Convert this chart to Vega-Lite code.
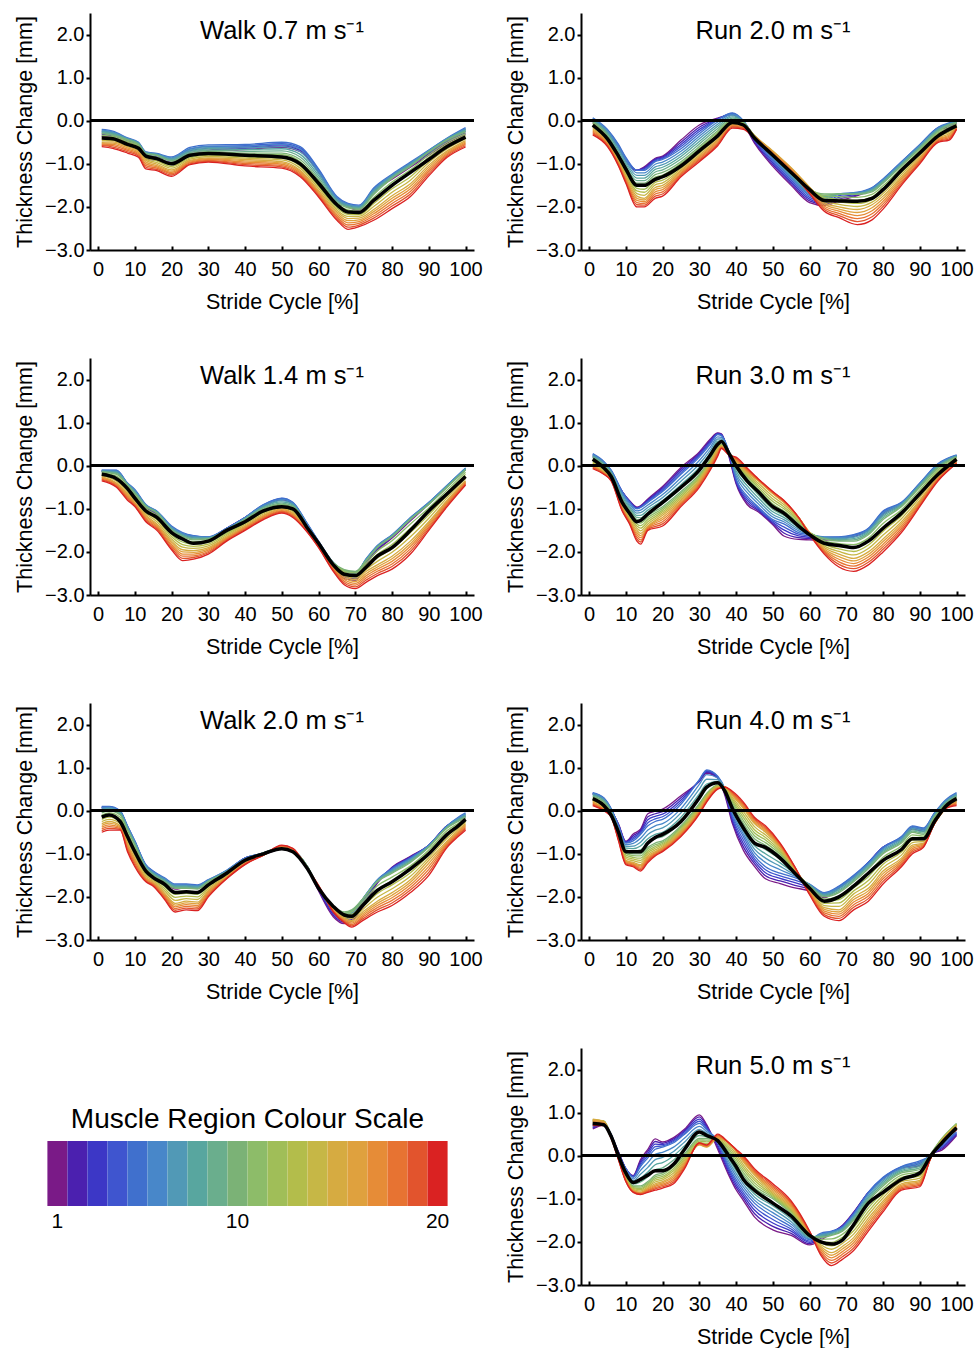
{
"$schema":"https://vega.github.io/schema/vega-lite/v6.json",
"padding":{"left":14,"top":13,"right":0,"bottom":0},
"config":{"font":"Liberation Sans","view":{"stroke":null},
"axis":{"domainColor":"#000","domainWidth":2,"tickColor":"#000","tickWidth":2,"labelColor":"#000","labelFontSize":20,"labelFont":"Liberation Sans","titleFont":"Liberation Sans","titleColor":"#000","titleFontSize":21.5,"titleFontWeight":"normal","grid":false,"labelOverlap":false,"labelFlush":false},
"title":{"font":"Liberation Sans","fontSize":25.5,"fontWeight":"normal","color":"#000","offset":-31,"baseline":"alphabetic","anchor":"middle"}},
"data":{"values":[
{"p":"w07","x":1,"m":-0.4,"1":-0.36,"2":-0.32,"3":-0.28,"4":-0.24,"5":-0.2,"6":-0.22,"7":-0.24,"8":-0.26,"9":-0.28,"10":-0.3,"11":-0.34,"12":-0.38,"13":-0.42,"14":-0.46,"15":-0.5,"16":-0.52,"17":-0.54,"18":-0.56,"19":-0.58,"20":-0.6},
{"p":"w07","x":4,"m":-0.42,"1":-0.4,"2":-0.36,"3":-0.32,"4":-0.28,"5":-0.24,"6":-0.26,"7":-0.28,"8":-0.3,"9":-0.32,"10":-0.34,"11":-0.37,"12":-0.4,"13":-0.43,"14":-0.46,"15":-0.49,"16":-0.52,"17":-0.55,"18":-0.58,"19":-0.61,"20":-0.64},
{"p":"w07","x":8,"m":-0.55,"1":-0.52,"2":-0.49,"3":-0.46,"4":-0.43,"5":-0.4,"6":-0.41,"7":-0.42,"8":-0.43,"9":-0.44,"10":-0.45,"11":-0.48,"12":-0.51,"13":-0.54,"14":-0.57,"15":-0.6,"16":-0.63,"17":-0.66,"18":-0.69,"19":-0.72,"20":-0.75},
{"p":"w07","x":11,"m":-0.64,"1":-0.62,"2":-0.59,"3":-0.56,"4":-0.53,"5":-0.5,"6":-0.51,"7":-0.52,"8":-0.53,"9":-0.54,"10":-0.55,"11":-0.58,"12":-0.61,"13":-0.64,"14":-0.67,"15":-0.7,"16":-0.73,"17":-0.76,"18":-0.79,"19":-0.82,"20":-0.85},
{"p":"w07","x":13,"m":-0.82,"1":-0.88,"2":-0.84,"3":-0.8,"4":-0.76,"5":-0.72,"6":-0.73,"7":-0.74,"8":-0.75,"9":-0.76,"10":-0.77,"11":-0.8,"12":-0.83,"13":-0.86,"14":-0.89,"15":-0.92,"16":-0.96,"17":-1,"18":-1.04,"19":-1.08,"20":-1.12},
{"p":"w07","x":16,"m":-0.88,"1":-0.92,"2":-0.88,"3":-0.84,"4":-0.8,"5":-0.76,"6":-0.77,"7":-0.78,"8":-0.79,"9":-0.8,"10":-0.81,"11":-0.85,"12":-0.89,"13":-0.93,"14":-0.97,"15":-1.01,"16":-1.04,"17":-1.07,"18":-1.1,"19":-1.13,"20":-1.16},
{"p":"w07","x":20,"m":-1,"1":-1,"2":-0.96,"3":-0.92,"4":-0.88,"5":-0.84,"6":-0.86,"7":-0.88,"8":-0.9,"9":-0.92,"10":-0.94,"11":-0.98,"12":-1.02,"13":-1.06,"14":-1.1,"15":-1.14,"16":-1.17,"17":-1.2,"18":-1.23,"19":-1.26,"20":-1.29},
{"p":"w07","x":25,"m":-0.8,"1":-0.78,"2":-0.74,"3":-0.7,"4":-0.66,"5":-0.62,"6":-0.65,"7":-0.68,"8":-0.71,"9":-0.74,"10":-0.77,"11":-0.8,"12":-0.83,"13":-0.86,"14":-0.89,"15":-0.92,"16":-0.94,"17":-0.96,"18":-0.98,"19":-1,"20":-1.02},
{"p":"w07","x":30,"m":-0.76,"1":-0.72,"2":-0.68,"3":-0.64,"4":-0.6,"5":-0.56,"6":-0.59,"7":-0.62,"8":-0.65,"9":-0.68,"10":-0.71,"11":-0.74,"12":-0.77,"13":-0.8,"14":-0.83,"15":-0.86,"16":-0.88,"17":-0.9,"18":-0.92,"19":-0.94,"20":-0.96},
{"p":"w07","x":40,"m":-0.8,"1":-0.67,"2":-0.64,"3":-0.61,"4":-0.58,"5":-0.55,"6":-0.59,"7":-0.63,"8":-0.67,"9":-0.71,"10":-0.75,"11":-0.78,"12":-0.81,"13":-0.84,"14":-0.87,"15":-0.9,"16":-0.93,"17":-0.96,"18":-0.99,"19":-1.02,"20":-1.05},
{"p":"w07","x":50,"m":-0.84,"1":-0.62,"2":-0.59,"3":-0.56,"4":-0.53,"5":-0.5,"6":-0.55,"7":-0.6,"8":-0.65,"9":-0.7,"10":-0.75,"11":-0.79,"12":-0.83,"13":-0.87,"14":-0.91,"15":-0.95,"16":-0.98,"17":-1.01,"18":-1.04,"19":-1.07,"20":-1.1},
{"p":"w07","x":55,"m":-1,"1":-0.72,"2":-0.69,"3":-0.66,"4":-0.63,"5":-0.6,"6":-0.66,"7":-0.72,"8":-0.78,"9":-0.84,"10":-0.9,"11":-0.95,"12":-1,"13":-1.05,"14":-1.1,"15":-1.15,"16":-1.18,"17":-1.21,"18":-1.24,"19":-1.27,"20":-1.3},
{"p":"w07","x":60,"m":-1.45,"1":-1.2,"2":-1.18,"3":-1.16,"4":-1.14,"5":-1.12,"6":-1.17,"7":-1.22,"8":-1.27,"9":-1.32,"10":-1.37,"11":-1.42,"12":-1.47,"13":-1.52,"14":-1.57,"15":-1.62,"16":-1.65,"17":-1.68,"18":-1.71,"19":-1.74,"20":-1.77},
{"p":"w07","x":65,"m":-1.95,"1":-1.84,"2":-1.82,"3":-1.8,"4":-1.78,"5":-1.76,"6":-1.79,"7":-1.82,"8":-1.85,"9":-1.88,"10":-1.91,"11":-1.95,"12":-1.99,"13":-2.03,"14":-2.07,"15":-2.11,"16":-2.15,"17":-2.19,"18":-2.23,"19":-2.27,"20":-2.31},
{"p":"w07","x":68,"m":-2.12,"1":-2,"2":-1.98,"3":-1.96,"4":-1.94,"5":-1.92,"6":-1.94,"7":-1.96,"8":-1.98,"9":-2,"10":-2.02,"11":-2.07,"12":-2.12,"13":-2.17,"14":-2.22,"15":-2.27,"16":-2.32,"17":-2.37,"18":-2.42,"19":-2.47,"20":-2.52},
{"p":"w07","x":71,"m":-2.13,"1":-2.08,"2":-2.05,"3":-2.02,"4":-1.99,"5":-1.96,"6":-1.98,"7":-2,"8":-2.02,"9":-2.04,"10":-2.06,"11":-2.1,"12":-2.14,"13":-2.18,"14":-2.22,"15":-2.26,"16":-2.3,"17":-2.34,"18":-2.38,"19":-2.42,"20":-2.46},
{"p":"w07","x":75,"m":-1.85,"1":-1.64,"2":-1.62,"3":-1.6,"4":-1.58,"5":-1.56,"6":-1.59,"7":-1.62,"8":-1.65,"9":-1.68,"10":-1.71,"11":-1.78,"12":-1.85,"13":-1.92,"14":-1.99,"15":-2.06,"16":-2.11,"17":-2.16,"18":-2.21,"19":-2.26,"20":-2.31},
{"p":"w07","x":80,"m":-1.5,"1":-1.36,"2":-1.33,"3":-1.3,"4":-1.27,"5":-1.24,"6":-1.26,"7":-1.28,"8":-1.3,"9":-1.32,"10":-1.34,"11":-1.42,"12":-1.5,"13":-1.58,"14":-1.66,"15":-1.74,"16":-1.8,"17":-1.86,"18":-1.92,"19":-1.98,"20":-2.04},
{"p":"w07","x":85,"m":-1.2,"1":-1.08,"2":-1.05,"3":-1.02,"4":-0.99,"5":-0.96,"6":-0.98,"7":-1,"8":-1.02,"9":-1.04,"10":-1.06,"11":-1.14,"12":-1.22,"13":-1.3,"14":-1.38,"15":-1.46,"16":-1.52,"17":-1.58,"18":-1.64,"19":-1.7,"20":-1.76},
{"p":"w07","x":90,"m":-0.9,"1":-0.8,"2":-0.77,"3":-0.74,"4":-0.71,"5":-0.68,"6":-0.69,"7":-0.7,"8":-0.71,"9":-0.72,"10":-0.73,"11":-0.79,"12":-0.85,"13":-0.91,"14":-0.97,"15":-1.03,"16":-1.08,"17":-1.13,"18":-1.18,"19":-1.23,"20":-1.28},
{"p":"w07","x":95,"m":-0.6,"1":-0.52,"2":-0.49,"3":-0.46,"4":-0.43,"5":-0.4,"6":-0.41,"7":-0.42,"8":-0.43,"9":-0.44,"10":-0.45,"11":-0.5,"12":-0.55,"13":-0.6,"14":-0.65,"15":-0.7,"16":-0.73,"17":-0.76,"18":-0.79,"19":-0.82,"20":-0.85},
{"p":"w07","x":100,"m":-0.38,"1":-0.32,"2":-0.28,"3":-0.24,"4":-0.2,"5":-0.16,"6":-0.18,"7":-0.2,"8":-0.22,"9":-0.24,"10":-0.26,"11":-0.3,"12":-0.34,"13":-0.38,"14":-0.42,"15":-0.46,"16":-0.49,"17":-0.52,"18":-0.55,"19":-0.58,"20":-0.61},
{"p":"r20","x":1,"m":-0.1,"1":-0.05,"2":-0.02,"3":0.01,"4":0.04,"5":0.07,"6":0.05,"7":0.03,"8":0.01,"9":-0.01,"10":-0.03,"11":-0.06,"12":-0.09,"13":-0.12,"14":-0.15,"15":-0.18,"16":-0.21,"17":-0.24,"18":-0.27,"19":-0.3,"20":-0.33},
{"p":"r20","x":5,"m":-0.42,"1":-0.28,"2":-0.26,"3":-0.24,"4":-0.22,"5":-0.2,"6":-0.23,"7":-0.26,"8":-0.29,"9":-0.32,"10":-0.35,"11":-0.38,"12":-0.41,"13":-0.44,"14":-0.47,"15":-0.5,"16":-0.52,"17":-0.54,"18":-0.56,"19":-0.58,"20":-0.6},
{"p":"r20","x":8,"m":-0.82,"1":-0.63,"2":-0.61,"3":-0.59,"4":-0.57,"5":-0.55,"6":-0.6,"7":-0.65,"8":-0.7,"9":-0.75,"10":-0.8,"11":-0.83,"12":-0.86,"13":-0.89,"14":-0.92,"15":-0.95,"16":-0.97,"17":-0.99,"18":-1.01,"19":-1.03,"20":-1.05},
{"p":"r20","x":10,"m":-1.12,"1":-0.93,"2":-0.91,"3":-0.89,"4":-0.87,"5":-0.85,"6":-0.9,"7":-0.95,"8":-1,"9":-1.05,"10":-1.1,"11":-1.14,"12":-1.18,"13":-1.22,"14":-1.26,"15":-1.3,"16":-1.33,"17":-1.36,"18":-1.39,"19":-1.42,"20":-1.45},
{"p":"r20","x":13,"m":-1.5,"1":-1.15,"2":-1.15,"3":-1.15,"4":-1.15,"5":-1.15,"6":-1.21,"7":-1.27,"8":-1.33,"9":-1.39,"10":-1.45,"11":-1.51,"12":-1.57,"13":-1.63,"14":-1.69,"15":-1.75,"16":-1.8,"17":-1.85,"18":-1.9,"19":-1.95,"20":-2},
{"p":"r20","x":15,"m":-1.5,"1":-1.07,"2":-1.09,"3":-1.11,"4":-1.13,"5":-1.15,"6":-1.21,"7":-1.27,"8":-1.33,"9":-1.39,"10":-1.45,"11":-1.52,"12":-1.59,"13":-1.66,"14":-1.73,"15":-1.8,"16":-1.84,"17":-1.88,"18":-1.92,"19":-1.96,"20":-2},
{"p":"r20","x":18,"m":-1.36,"1":-0.87,"2":-0.89,"3":-0.91,"4":-0.93,"5":-0.95,"6":-1.01,"7":-1.07,"8":-1.13,"9":-1.19,"10":-1.25,"11":-1.31,"12":-1.37,"13":-1.43,"14":-1.49,"15":-1.55,"16":-1.6,"17":-1.65,"18":-1.7,"19":-1.75,"20":-1.8},
{"p":"r20","x":20,"m":-1.3,"1":-0.82,"2":-0.84,"3":-0.86,"4":-0.88,"5":-0.9,"6":-0.96,"7":-1.02,"8":-1.08,"9":-1.14,"10":-1.2,"11":-1.26,"12":-1.32,"13":-1.38,"14":-1.44,"15":-1.5,"16":-1.55,"17":-1.6,"18":-1.65,"19":-1.7,"20":-1.75},
{"p":"r20","x":25,"m":-1.05,"1":-0.45,"2":-0.5,"3":-0.55,"4":-0.6,"5":-0.65,"6":-0.71,"7":-0.77,"8":-0.83,"9":-0.89,"10":-0.95,"11":-0.99,"12":-1.03,"13":-1.07,"14":-1.11,"15":-1.15,"16":-1.18,"17":-1.21,"18":-1.24,"19":-1.27,"20":-1.3},
{"p":"r20","x":30,"m":-0.7,"1":-0.1,"2":-0.15,"3":-0.2,"4":-0.25,"5":-0.3,"6":-0.36,"7":-0.42,"8":-0.48,"9":-0.54,"10":-0.6,"11":-0.64,"12":-0.68,"13":-0.72,"14":-0.76,"15":-0.8,"16":-0.83,"17":-0.86,"18":-0.89,"19":-0.92,"20":-0.95},
{"p":"r20","x":35,"m":-0.35,"1":0.06,"2":0.05,"3":0.04,"4":0.03,"5":0.02,"6":-0.03,"7":-0.08,"8":-0.13,"9":-0.18,"10":-0.23,"11":-0.27,"12":-0.31,"13":-0.35,"14":-0.39,"15":-0.43,"16":-0.46,"17":-0.49,"18":-0.52,"19":-0.55,"20":-0.58},
{"p":"r20","x":39,"m":-0.04,"1":0.14,"2":0.15,"3":0.16,"4":0.17,"5":0.18,"6":0.15,"7":0.12,"8":0.09,"9":0.06,"10":0.03,"11":0.01,"12":-0.01,"13":-0.03,"14":-0.05,"15":-0.07,"16":-0.09,"17":-0.11,"18":-0.13,"19":-0.15,"20":-0.17},
{"p":"r20","x":42,"m":-0.1,"1":-0.08,"2":-0.06,"3":-0.04,"4":-0.02,"5":0,"6":-0.01,"7":-0.02,"8":-0.03,"9":-0.04,"10":-0.05,"11":-0.06,"12":-0.07,"13":-0.08,"14":-0.09,"15":-0.1,"16":-0.12,"17":-0.14,"18":-0.16,"19":-0.18,"20":-0.2},
{"p":"r20","x":45,"m":-0.4,"1":-0.52,"2":-0.49,"3":-0.46,"4":-0.43,"5":-0.4,"6":-0.39,"7":-0.38,"8":-0.37,"9":-0.36,"10":-0.35,"11":-0.35,"12":-0.35,"13":-0.35,"14":-0.35,"15":-0.35,"16":-0.36,"17":-0.37,"18":-0.38,"19":-0.39,"20":-0.4},
{"p":"r20","x":50,"m":-0.8,"1":-1.06,"2":-1.02,"3":-0.98,"4":-0.94,"5":-0.9,"6":-0.87,"7":-0.84,"8":-0.81,"9":-0.78,"10":-0.75,"11":-0.74,"12":-0.73,"13":-0.72,"14":-0.71,"15":-0.7,"16":-0.72,"17":-0.74,"18":-0.76,"19":-0.78,"20":-0.8},
{"p":"r20","x":55,"m":-1.2,"1":-1.5,"2":-1.46,"3":-1.42,"4":-1.38,"5":-1.34,"6":-1.31,"7":-1.28,"8":-1.25,"9":-1.22,"10":-1.19,"11":-1.17,"12":-1.15,"13":-1.13,"14":-1.11,"15":-1.09,"16":-1.11,"17":-1.13,"18":-1.15,"19":-1.17,"20":-1.19},
{"p":"r20","x":60,"m":-1.6,"1":-1.9,"2":-1.86,"3":-1.82,"4":-1.78,"5":-1.74,"6":-1.71,"7":-1.68,"8":-1.65,"9":-1.62,"10":-1.59,"11":-1.58,"12":-1.57,"13":-1.56,"14":-1.55,"15":-1.54,"16":-1.57,"17":-1.6,"18":-1.63,"19":-1.66,"20":-1.69},
{"p":"r20","x":64,"m":-1.85,"1":-1.97,"2":-1.94,"3":-1.91,"4":-1.88,"5":-1.85,"6":-1.82,"7":-1.79,"8":-1.76,"9":-1.73,"10":-1.7,"11":-1.74,"12":-1.78,"13":-1.82,"14":-1.86,"15":-1.9,"16":-1.94,"17":-1.98,"18":-2.02,"19":-2.06,"20":-2.1},
{"p":"r20","x":68,"m":-1.86,"1":-1.86,"2":-1.82,"3":-1.78,"4":-1.74,"5":-1.7,"6":-1.7,"7":-1.7,"8":-1.7,"9":-1.7,"10":-1.7,"11":-1.76,"12":-1.82,"13":-1.88,"14":-1.94,"15":-2,"16":-2.05,"17":-2.1,"18":-2.15,"19":-2.2,"20":-2.25},
{"p":"r20","x":73,"m":-1.87,"1":-1.74,"2":-1.72,"3":-1.7,"4":-1.68,"5":-1.66,"6":-1.67,"7":-1.68,"8":-1.69,"9":-1.7,"10":-1.71,"11":-1.78,"12":-1.85,"13":-1.92,"14":-1.99,"15":-2.06,"16":-2.13,"17":-2.2,"18":-2.27,"19":-2.34,"20":-2.41},
{"p":"r20","x":77,"m":-1.8,"1":-1.59,"2":-1.58,"3":-1.57,"4":-1.56,"5":-1.55,"6":-1.57,"7":-1.59,"8":-1.61,"9":-1.63,"10":-1.65,"11":-1.71,"12":-1.77,"13":-1.83,"14":-1.89,"15":-1.95,"16":-2.02,"17":-2.09,"18":-2.16,"19":-2.23,"20":-2.3},
{"p":"r20","x":80,"m":-1.6,"1":-1.39,"2":-1.38,"3":-1.37,"4":-1.36,"5":-1.35,"6":-1.37,"7":-1.39,"8":-1.41,"9":-1.43,"10":-1.45,"11":-1.51,"12":-1.57,"13":-1.63,"14":-1.69,"15":-1.75,"16":-1.81,"17":-1.87,"18":-1.93,"19":-1.99,"20":-2.05},
{"p":"r20","x":85,"m":-1.15,"1":-0.99,"2":-0.98,"3":-0.97,"4":-0.96,"5":-0.95,"6":-0.97,"7":-0.99,"8":-1.01,"9":-1.03,"10":-1.05,"11":-1.1,"12":-1.15,"13":-1.2,"14":-1.25,"15":-1.3,"16":-1.34,"17":-1.38,"18":-1.42,"19":-1.46,"20":-1.5},
{"p":"r20","x":90,"m":-0.75,"1":-0.59,"2":-0.58,"3":-0.57,"4":-0.56,"5":-0.55,"6":-0.57,"7":-0.59,"8":-0.61,"9":-0.63,"10":-0.65,"11":-0.69,"12":-0.73,"13":-0.77,"14":-0.81,"15":-0.85,"16":-0.88,"17":-0.91,"18":-0.94,"19":-0.97,"20":-1},
{"p":"r20","x":95,"m":-0.35,"1":-0.19,"2":-0.18,"3":-0.17,"4":-0.16,"5":-0.15,"6":-0.17,"7":-0.19,"8":-0.21,"9":-0.23,"10":-0.25,"11":-0.28,"12":-0.31,"13":-0.34,"14":-0.37,"15":-0.4,"16":-0.42,"17":-0.44,"18":-0.46,"19":-0.48,"20":-0.5},
{"p":"r20","x":98,"m":-0.2,"1":-0.17,"2":-0.14,"3":-0.11,"4":-0.08,"5":-0.05,"6":-0.06,"7":-0.07,"8":-0.08,"9":-0.09,"10":-0.1,"11":-0.14,"12":-0.18,"13":-0.22,"14":-0.26,"15":-0.3,"16":-0.33,"17":-0.36,"18":-0.39,"19":-0.42,"20":-0.45},
{"p":"r20","x":100,"m":-0.12,"1":-0.08,"2":-0.06,"3":-0.04,"4":-0.02,"5":0,"6":-0.01,"7":-0.02,"8":-0.03,"9":-0.04,"10":-0.05,"11":-0.07,"12":-0.09,"13":-0.11,"14":-0.13,"15":-0.15,"16":-0.16,"17":-0.17,"18":-0.18,"19":-0.19,"20":-0.2},
{"p":"w14","x":1,"m":-0.2,"1":-0.14,"2":-0.13,"3":-0.12,"4":-0.11,"5":-0.1,"6":-0.11,"7":-0.12,"8":-0.13,"9":-0.14,"10":-0.15,"11":-0.17,"12":-0.19,"13":-0.21,"14":-0.23,"15":-0.25,"16":-0.27,"17":-0.29,"18":-0.31,"19":-0.33,"20":-0.35},
{"p":"w14","x":5,"m":-0.3,"1":-0.14,"2":-0.13,"3":-0.12,"4":-0.11,"5":-0.1,"6":-0.12,"7":-0.14,"8":-0.16,"9":-0.18,"10":-0.2,"11":-0.24,"12":-0.28,"13":-0.32,"14":-0.36,"15":-0.4,"16":-0.42,"17":-0.44,"18":-0.46,"19":-0.48,"20":-0.5},
{"p":"w14","x":8,"m":-0.53,"1":-0.44,"2":-0.43,"3":-0.42,"4":-0.41,"5":-0.4,"6":-0.41,"7":-0.42,"8":-0.43,"9":-0.44,"10":-0.45,"11":-0.49,"12":-0.53,"13":-0.57,"14":-0.61,"15":-0.65,"16":-0.68,"17":-0.71,"18":-0.74,"19":-0.77,"20":-0.8},
{"p":"w14","x":10,"m":-0.75,"1":-0.63,"2":-0.61,"3":-0.59,"4":-0.57,"5":-0.55,"6":-0.57,"7":-0.59,"8":-0.61,"9":-0.63,"10":-0.65,"11":-0.69,"12":-0.73,"13":-0.77,"14":-0.81,"15":-0.85,"16":-0.87,"17":-0.89,"18":-0.91,"19":-0.93,"20":-0.95},
{"p":"w14","x":13,"m":-1.05,"1":-0.98,"2":-0.96,"3":-0.94,"4":-0.92,"5":-0.9,"6":-0.91,"7":-0.92,"8":-0.93,"9":-0.94,"10":-0.95,"11":-0.99,"12":-1.03,"13":-1.07,"14":-1.11,"15":-1.15,"16":-1.18,"17":-1.21,"18":-1.24,"19":-1.27,"20":-1.3},
{"p":"w14","x":16,"m":-1.2,"1":-1.13,"2":-1.11,"3":-1.09,"4":-1.07,"5":-1.05,"6":-1.06,"7":-1.07,"8":-1.08,"9":-1.09,"10":-1.1,"11":-1.15,"12":-1.2,"13":-1.25,"14":-1.3,"15":-1.35,"16":-1.38,"17":-1.41,"18":-1.44,"19":-1.47,"20":-1.5},
{"p":"w14","x":20,"m":-1.55,"1":-1.48,"2":-1.46,"3":-1.44,"4":-1.42,"5":-1.4,"6":-1.42,"7":-1.44,"8":-1.46,"9":-1.48,"10":-1.5,"11":-1.55,"12":-1.6,"13":-1.65,"14":-1.7,"15":-1.75,"16":-1.79,"17":-1.83,"18":-1.87,"19":-1.91,"20":-1.95},
{"p":"w14","x":23,"m":-1.7,"1":-1.63,"2":-1.61,"3":-1.59,"4":-1.57,"5":-1.55,"6":-1.57,"7":-1.59,"8":-1.61,"9":-1.63,"10":-1.65,"11":-1.71,"12":-1.77,"13":-1.83,"14":-1.89,"15":-1.95,"16":-2,"17":-2.05,"18":-2.1,"19":-2.15,"20":-2.2},
{"p":"w14","x":26,"m":-1.8,"1":-1.66,"2":-1.65,"3":-1.64,"4":-1.63,"5":-1.62,"6":-1.64,"7":-1.66,"8":-1.68,"9":-1.7,"10":-1.72,"11":-1.77,"12":-1.82,"13":-1.87,"14":-1.92,"15":-1.97,"16":-2.01,"17":-2.05,"18":-2.09,"19":-2.13,"20":-2.17},
{"p":"w14","x":30,"m":-1.75,"1":-1.69,"2":-1.68,"3":-1.67,"4":-1.66,"5":-1.65,"6":-1.66,"7":-1.67,"8":-1.68,"9":-1.69,"10":-1.7,"11":-1.74,"12":-1.78,"13":-1.82,"14":-1.86,"15":-1.9,"16":-1.93,"17":-1.96,"18":-1.99,"19":-2.02,"20":-2.05},
{"p":"w14","x":35,"m":-1.5,"1":-1.45,"2":-1.45,"3":-1.45,"4":-1.45,"5":-1.45,"6":-1.46,"7":-1.47,"8":-1.48,"9":-1.49,"10":-1.5,"11":-1.53,"12":-1.56,"13":-1.59,"14":-1.62,"15":-1.65,"16":-1.67,"17":-1.69,"18":-1.71,"19":-1.73,"20":-1.75},
{"p":"w14","x":40,"m":-1.3,"1":-1.2,"2":-1.2,"3":-1.2,"4":-1.2,"5":-1.2,"6":-1.21,"7":-1.22,"8":-1.23,"9":-1.24,"10":-1.25,"11":-1.28,"12":-1.31,"13":-1.34,"14":-1.37,"15":-1.4,"16":-1.42,"17":-1.44,"18":-1.46,"19":-1.48,"20":-1.5},
{"p":"w14","x":45,"m":-1.05,"1":-0.94,"2":-0.93,"3":-0.92,"4":-0.91,"5":-0.9,"6":-0.92,"7":-0.94,"8":-0.96,"9":-0.98,"10":-1,"11":-1.03,"12":-1.06,"13":-1.09,"14":-1.12,"15":-1.15,"16":-1.17,"17":-1.19,"18":-1.21,"19":-1.23,"20":-1.25},
{"p":"w14","x":50,"m":-0.95,"1":-0.79,"2":-0.78,"3":-0.77,"4":-0.76,"5":-0.75,"6":-0.78,"7":-0.81,"8":-0.84,"9":-0.87,"10":-0.9,"11":-0.92,"12":-0.94,"13":-0.96,"14":-0.98,"15":-1,"16":-1.02,"17":-1.04,"18":-1.06,"19":-1.08,"20":-1.1},
{"p":"w14","x":53,"m":-1,"1":-0.89,"2":-0.88,"3":-0.87,"4":-0.86,"5":-0.85,"6":-0.87,"7":-0.89,"8":-0.91,"9":-0.93,"10":-0.95,"11":-0.98,"12":-1.01,"13":-1.04,"14":-1.07,"15":-1.1,"16":-1.12,"17":-1.14,"18":-1.16,"19":-1.18,"20":-1.2},
{"p":"w14","x":57,"m":-1.45,"1":-1.39,"2":-1.38,"3":-1.37,"4":-1.36,"5":-1.35,"6":-1.37,"7":-1.39,"8":-1.41,"9":-1.43,"10":-1.45,"11":-1.46,"12":-1.47,"13":-1.48,"14":-1.49,"15":-1.5,"16":-1.51,"17":-1.52,"18":-1.53,"19":-1.54,"20":-1.55},
{"p":"w14","x":60,"m":-1.8,"1":-1.79,"2":-1.78,"3":-1.77,"4":-1.76,"5":-1.75,"6":-1.76,"7":-1.77,"8":-1.78,"9":-1.79,"10":-1.8,"11":-1.81,"12":-1.82,"13":-1.83,"14":-1.84,"15":-1.85,"16":-1.86,"17":-1.87,"18":-1.88,"19":-1.89,"20":-1.9},
{"p":"w14","x":64,"m":-2.3,"1":-2.33,"2":-2.31,"3":-2.29,"4":-2.27,"5":-2.25,"6":-2.25,"7":-2.25,"8":-2.25,"9":-2.25,"10":-2.25,"11":-2.27,"12":-2.29,"13":-2.31,"14":-2.33,"15":-2.35,"16":-2.37,"17":-2.39,"18":-2.41,"19":-2.43,"20":-2.45},
{"p":"w14","x":67,"m":-2.52,"1":-2.62,"2":-2.58,"3":-2.54,"4":-2.5,"5":-2.46,"6":-2.45,"7":-2.44,"8":-2.43,"9":-2.42,"10":-2.41,"11":-2.44,"12":-2.47,"13":-2.5,"14":-2.53,"15":-2.56,"16":-2.6,"17":-2.64,"18":-2.68,"19":-2.72,"20":-2.76},
{"p":"w14","x":70,"m":-2.55,"1":-2.66,"2":-2.62,"3":-2.58,"4":-2.54,"5":-2.5,"6":-2.49,"7":-2.48,"8":-2.47,"9":-2.46,"10":-2.45,"11":-2.49,"12":-2.53,"13":-2.57,"14":-2.61,"15":-2.65,"16":-2.69,"17":-2.73,"18":-2.77,"19":-2.81,"20":-2.85},
{"p":"w14","x":73,"m":-2.35,"1":-2.27,"2":-2.24,"3":-2.21,"4":-2.18,"5":-2.15,"6":-2.16,"7":-2.17,"8":-2.18,"9":-2.19,"10":-2.2,"11":-2.25,"12":-2.3,"13":-2.35,"14":-2.4,"15":-2.45,"16":-2.5,"17":-2.55,"18":-2.6,"19":-2.65,"20":-2.7},
{"p":"w14","x":76,"m":-2.1,"1":-1.97,"2":-1.94,"3":-1.91,"4":-1.88,"5":-1.85,"6":-1.86,"7":-1.87,"8":-1.88,"9":-1.89,"10":-1.9,"11":-1.98,"12":-2.06,"13":-2.14,"14":-2.22,"15":-2.3,"16":-2.35,"17":-2.4,"18":-2.45,"19":-2.5,"20":-2.55},
{"p":"w14","x":80,"m":-1.9,"1":-1.68,"2":-1.66,"3":-1.64,"4":-1.62,"5":-1.6,"6":-1.61,"7":-1.62,"8":-1.63,"9":-1.64,"10":-1.65,"11":-1.74,"12":-1.83,"13":-1.92,"14":-2.01,"15":-2.1,"16":-2.16,"17":-2.22,"18":-2.28,"19":-2.34,"20":-2.4},
{"p":"w14","x":85,"m":-1.5,"1":-1.28,"2":-1.26,"3":-1.24,"4":-1.22,"5":-1.2,"6":-1.21,"7":-1.22,"8":-1.23,"9":-1.24,"10":-1.25,"11":-1.35,"12":-1.45,"13":-1.55,"14":-1.65,"15":-1.75,"16":-1.81,"17":-1.87,"18":-1.93,"19":-1.99,"20":-2.05},
{"p":"w14","x":90,"m":-1.05,"1":-0.89,"2":-0.88,"3":-0.87,"4":-0.86,"5":-0.85,"6":-0.86,"7":-0.87,"8":-0.88,"9":-0.89,"10":-0.9,"11":-0.98,"12":-1.06,"13":-1.14,"14":-1.22,"15":-1.3,"16":-1.34,"17":-1.38,"18":-1.42,"19":-1.46,"20":-1.5},
{"p":"w14","x":95,"m":-0.65,"1":-0.49,"2":-0.48,"3":-0.47,"4":-0.46,"5":-0.45,"6":-0.46,"7":-0.47,"8":-0.48,"9":-0.49,"10":-0.5,"11":-0.56,"12":-0.62,"13":-0.68,"14":-0.74,"15":-0.8,"16":-0.83,"17":-0.86,"18":-0.89,"19":-0.92,"20":-0.95},
{"p":"w14","x":100,"m":-0.25,"1":-0.09,"2":-0.08,"3":-0.07,"4":-0.06,"5":-0.05,"6":-0.06,"7":-0.07,"8":-0.08,"9":-0.09,"10":-0.1,"11":-0.15,"12":-0.2,"13":-0.25,"14":-0.3,"15":-0.35,"16":-0.37,"17":-0.39,"18":-0.41,"19":-0.43,"20":-0.45},
{"p":"r30","x":1,"m":0.15,"1":0.2,"2":0.22,"3":0.24,"4":0.26,"5":0.28,"6":0.26,"7":0.24,"8":0.22,"9":0.2,"10":0.18,"11":0.15,"12":0.12,"13":0.09,"14":0.06,"15":0.03,"16":0.01,"17":-0.01,"18":-0.03,"19":-0.05,"20":-0.07},
{"p":"r30","x":4,"m":-0.05,"1":0.06,"2":0.07,"3":0.08,"4":0.09,"5":0.1,"6":0.08,"7":0.06,"8":0.04,"9":0.02,"10":0,"11":-0.03,"12":-0.06,"13":-0.09,"14":-0.12,"15":-0.15,"16":-0.16,"17":-0.17,"18":-0.18,"19":-0.19,"20":-0.2},
{"p":"r30","x":6,"m":-0.25,"1":-0.14,"2":-0.13,"3":-0.12,"4":-0.11,"5":-0.1,"6":-0.12,"7":-0.14,"8":-0.16,"9":-0.18,"10":-0.2,"11":-0.22,"12":-0.24,"13":-0.26,"14":-0.28,"15":-0.3,"16":-0.31,"17":-0.32,"18":-0.33,"19":-0.34,"20":-0.35},
{"p":"r30","x":9,"m":-0.85,"1":-0.6,"2":-0.6,"3":-0.6,"4":-0.6,"5":-0.6,"6":-0.64,"7":-0.68,"8":-0.72,"9":-0.76,"10":-0.8,"11":-0.83,"12":-0.86,"13":-0.89,"14":-0.92,"15":-0.95,"16":-0.97,"17":-0.99,"18":-1.01,"19":-1.03,"20":-1.05},
{"p":"r30","x":11,"m":-1.1,"1":-0.81,"2":-0.82,"3":-0.83,"4":-0.84,"5":-0.85,"6":-0.89,"7":-0.93,"8":-0.97,"9":-1.01,"10":-1.05,"11":-1.09,"12":-1.13,"13":-1.17,"14":-1.21,"15":-1.25,"16":-1.27,"17":-1.29,"18":-1.31,"19":-1.33,"20":-1.35},
{"p":"r30","x":13,"m":-1.3,"1":-0.96,"2":-0.97,"3":-0.98,"4":-0.99,"5":-1,"6":-1.05,"7":-1.1,"8":-1.15,"9":-1.2,"10":-1.25,"11":-1.3,"12":-1.35,"13":-1.4,"14":-1.45,"15":-1.5,"16":-1.55,"17":-1.6,"18":-1.65,"19":-1.7,"20":-1.75},
{"p":"r30","x":14,"m":-1.27,"1":-0.93,"2":-0.94,"3":-0.95,"4":-0.96,"5":-0.97,"6":-1.03,"7":-1.09,"8":-1.15,"9":-1.21,"10":-1.27,"11":-1.33,"12":-1.39,"13":-1.45,"14":-1.51,"15":-1.57,"16":-1.62,"17":-1.67,"18":-1.72,"19":-1.77,"20":-1.82},
{"p":"r30","x":16,"m":-1.12,"1":-0.77,"2":-0.79,"3":-0.81,"4":-0.83,"5":-0.85,"6":-0.91,"7":-0.97,"8":-1.03,"9":-1.09,"10":-1.15,"11":-1.2,"12":-1.25,"13":-1.3,"14":-1.35,"15":-1.4,"16":-1.42,"17":-1.44,"18":-1.46,"19":-1.48,"20":-1.5},
{"p":"r30","x":20,"m":-0.85,"1":-0.48,"2":-0.51,"3":-0.54,"4":-0.57,"5":-0.6,"6":-0.67,"7":-0.74,"8":-0.81,"9":-0.88,"10":-0.95,"11":-0.99,"12":-1.03,"13":-1.07,"14":-1.11,"15":-1.15,"16":-1.2,"17":-1.25,"18":-1.3,"19":-1.35,"20":-1.4},
{"p":"r30","x":25,"m":-0.5,"1":-0.04,"2":-0.08,"3":-0.12,"4":-0.16,"5":-0.2,"6":-0.28,"7":-0.36,"8":-0.44,"9":-0.52,"10":-0.6,"11":-0.64,"12":-0.68,"13":-0.72,"14":-0.76,"15":-0.8,"16":-0.83,"17":-0.86,"18":-0.89,"19":-0.92,"20":-0.95},
{"p":"r30","x":30,"m":-0.1,"1":0.32,"2":0.29,"3":0.26,"4":0.23,"5":0.2,"6":0.12,"7":0.04,"8":-0.04,"9":-0.12,"10":-0.2,"11":-0.23,"12":-0.26,"13":-0.29,"14":-0.32,"15":-0.35,"16":-0.38,"17":-0.41,"18":-0.44,"19":-0.47,"20":-0.5},
{"p":"r30","x":33,"m":0.25,"1":0.62,"2":0.59,"3":0.56,"4":0.53,"5":0.5,"6":0.43,"7":0.36,"8":0.29,"9":0.22,"10":0.15,"11":0.13,"12":0.11,"13":0.09,"14":0.07,"15":0.05,"16":0.02,"17":-0.01,"18":-0.04,"19":-0.07,"20":-0.1},
{"p":"r30","x":35,"m":0.5,"1":0.76,"2":0.75,"3":0.74,"4":0.73,"5":0.72,"6":0.67,"7":0.62,"8":0.57,"9":0.52,"10":0.47,"11":0.45,"12":0.43,"13":0.41,"14":0.39,"15":0.37,"16":0.34,"17":0.31,"18":0.28,"19":0.25,"20":0.22},
{"p":"r30","x":36,"m":0.56,"1":0.74,"2":0.73,"3":0.72,"4":0.71,"5":0.7,"6":0.66,"7":0.62,"8":0.58,"9":0.54,"10":0.5,"11":0.49,"12":0.48,"13":0.47,"14":0.46,"15":0.45,"16":0.44,"17":0.43,"18":0.42,"19":0.41,"20":0.4},
{"p":"r30","x":38,"m":0.3,"1":0.23,"2":0.26,"3":0.29,"4":0.32,"5":0.35,"6":0.34,"7":0.33,"8":0.32,"9":0.31,"10":0.3,"11":0.3,"12":0.3,"13":0.3,"14":0.3,"15":0.3,"16":0.29,"17":0.28,"18":0.27,"19":0.26,"20":0.25},
{"p":"r30","x":40,"m":0,"1":-0.42,"2":-0.39,"3":-0.36,"4":-0.33,"5":-0.3,"6":-0.24,"7":-0.18,"8":-0.12,"9":-0.06,"10":0,"11":0.02,"12":0.04,"13":0.06,"14":0.08,"15":0.1,"16":0.12,"17":0.14,"18":0.16,"19":0.18,"20":0.2},
{"p":"r30","x":43,"m":-0.35,"1":-0.9,"2":-0.85,"3":-0.8,"4":-0.75,"5":-0.7,"6":-0.62,"7":-0.54,"8":-0.46,"9":-0.38,"10":-0.3,"11":-0.27,"12":-0.24,"13":-0.21,"14":-0.18,"15":-0.15,"16":-0.13,"17":-0.11,"18":-0.09,"19":-0.07,"20":-0.05},
{"p":"r30","x":46,"m":-0.6,"1":-1.07,"2":-1.04,"3":-1.01,"4":-0.98,"5":-0.95,"6":-0.88,"7":-0.81,"8":-0.74,"9":-0.67,"10":-0.6,"11":-0.55,"12":-0.5,"13":-0.45,"14":-0.4,"15":-0.35,"16":-0.34,"17":-0.33,"18":-0.32,"19":-0.31,"20":-0.3},
{"p":"r30","x":50,"m":-0.95,"1":-1.37,"2":-1.34,"3":-1.31,"4":-1.28,"5":-1.25,"6":-1.19,"7":-1.13,"8":-1.07,"9":-1.01,"10":-0.95,"11":-0.89,"12":-0.83,"13":-0.77,"14":-0.71,"15":-0.65,"16":-0.64,"17":-0.63,"18":-0.62,"19":-0.61,"20":-0.6},
{"p":"r30","x":53,"m":-1.1,"1":-1.63,"2":-1.56,"3":-1.49,"4":-1.42,"5":-1.35,"6":-1.3,"7":-1.25,"8":-1.2,"9":-1.15,"10":-1.1,"11":-1.05,"12":-1,"13":-0.95,"14":-0.9,"15":-0.85,"16":-0.84,"17":-0.83,"18":-0.82,"19":-0.81,"20":-0.8},
{"p":"r30","x":57,"m":-1.4,"1":-1.71,"2":-1.67,"3":-1.63,"4":-1.59,"5":-1.55,"6":-1.51,"7":-1.47,"8":-1.43,"9":-1.39,"10":-1.35,"11":-1.32,"12":-1.29,"13":-1.26,"14":-1.23,"15":-1.2,"16":-1.2,"17":-1.2,"18":-1.2,"19":-1.2,"20":-1.2},
{"p":"r30","x":60,"m":-1.6,"1":-1.72,"2":-1.69,"3":-1.66,"4":-1.63,"5":-1.6,"6":-1.59,"7":-1.58,"8":-1.57,"9":-1.56,"10":-1.55,"11":-1.55,"12":-1.55,"13":-1.55,"14":-1.55,"15":-1.55,"16":-1.56,"17":-1.57,"18":-1.58,"19":-1.59,"20":-1.6},
{"p":"r30","x":64,"m":-1.8,"1":-1.73,"2":-1.71,"3":-1.69,"4":-1.67,"5":-1.65,"6":-1.66,"7":-1.67,"8":-1.68,"9":-1.69,"10":-1.7,"11":-1.74,"12":-1.78,"13":-1.82,"14":-1.86,"15":-1.9,"16":-1.93,"17":-1.96,"18":-1.99,"19":-2.02,"20":-2.05},
{"p":"r30","x":68,"m":-1.85,"1":-1.69,"2":-1.68,"3":-1.67,"4":-1.66,"5":-1.65,"6":-1.67,"7":-1.69,"8":-1.71,"9":-1.73,"10":-1.75,"11":-1.81,"12":-1.87,"13":-1.93,"14":-1.99,"15":-2.05,"16":-2.11,"17":-2.17,"18":-2.23,"19":-2.29,"20":-2.35},
{"p":"r30","x":72,"m":-1.9,"1":-1.64,"2":-1.63,"3":-1.62,"4":-1.61,"5":-1.6,"6":-1.63,"7":-1.66,"8":-1.69,"9":-1.72,"10":-1.75,"11":-1.83,"12":-1.91,"13":-1.99,"14":-2.07,"15":-2.15,"16":-2.21,"17":-2.27,"18":-2.33,"19":-2.39,"20":-2.45},
{"p":"r30","x":76,"m":-1.75,"1":-1.49,"2":-1.48,"3":-1.47,"4":-1.46,"5":-1.45,"6":-1.48,"7":-1.51,"8":-1.54,"9":-1.57,"10":-1.6,"11":-1.68,"12":-1.76,"13":-1.84,"14":-1.92,"15":-2,"16":-2.06,"17":-2.12,"18":-2.18,"19":-2.24,"20":-2.3},
{"p":"r30","x":80,"m":-1.45,"1":-1.13,"2":-1.11,"3":-1.09,"4":-1.07,"5":-1.05,"6":-1.09,"7":-1.13,"8":-1.17,"9":-1.21,"10":-1.25,"11":-1.34,"12":-1.43,"13":-1.52,"14":-1.61,"15":-1.7,"16":-1.76,"17":-1.82,"18":-1.88,"19":-1.94,"20":-2},
{"p":"r30","x":85,"m":-1.1,"1":-0.89,"2":-0.88,"3":-0.87,"4":-0.86,"5":-0.85,"6":-0.87,"7":-0.89,"8":-0.91,"9":-0.93,"10":-0.95,"11":-1.02,"12":-1.09,"13":-1.16,"14":-1.23,"15":-1.3,"16":-1.35,"17":-1.4,"18":-1.45,"19":-1.5,"20":-1.55},
{"p":"r30","x":90,"m":-0.65,"1":-0.44,"2":-0.43,"3":-0.42,"4":-0.41,"5":-0.4,"6":-0.42,"7":-0.44,"8":-0.46,"9":-0.48,"10":-0.5,"11":-0.56,"12":-0.62,"13":-0.68,"14":-0.74,"15":-0.8,"16":-0.83,"17":-0.86,"18":-0.89,"19":-0.92,"20":-0.95},
{"p":"r30","x":95,"m":-0.2,"1":0.01,"2":0.02,"3":0.03,"4":0.04,"5":0.05,"6":0.03,"7":0.01,"8":-0.01,"9":-0.03,"10":-0.05,"11":-0.09,"12":-0.13,"13":-0.17,"14":-0.21,"15":-0.25,"16":-0.27,"17":-0.29,"18":-0.31,"19":-0.33,"20":-0.35},
{"p":"r30","x":100,"m":0.15,"1":0.21,"2":0.22,"3":0.23,"4":0.24,"5":0.25,"6":0.24,"7":0.23,"8":0.22,"9":0.21,"10":0.2,"11":0.18,"12":0.16,"13":0.14,"14":0.12,"15":0.1,"16":0.09,"17":0.08,"18":0.07,"19":0.06,"20":0.05},
{"p":"w20","x":1,"m":-0.15,"1":0.06,"2":0.07,"3":0.08,"4":0.09,"5":0.1,"6":0.07,"7":0.04,"8":0.01,"9":-0.02,"10":-0.05,"11":-0.1,"12":-0.15,"13":-0.2,"14":-0.25,"15":-0.3,"16":-0.34,"17":-0.38,"18":-0.42,"19":-0.46,"20":-0.5},
{"p":"w20","x":3,"m":-0.1,"1":0.06,"2":0.07,"3":0.08,"4":0.09,"5":0.1,"6":0.08,"7":0.06,"8":0.04,"9":0.02,"10":0,"11":-0.05,"12":-0.1,"13":-0.15,"14":-0.2,"15":-0.25,"16":-0.29,"17":-0.33,"18":-0.37,"19":-0.41,"20":-0.45},
{"p":"w20","x":6,"m":-0.25,"1":-0.04,"2":-0.03,"3":-0.02,"4":-0.01,"5":0,"6":-0.02,"7":-0.04,"8":-0.06,"9":-0.08,"10":-0.1,"11":-0.15,"12":-0.2,"13":-0.25,"14":-0.3,"15":-0.35,"16":-0.37,"17":-0.39,"18":-0.41,"19":-0.43,"20":-0.45},
{"p":"w20","x":8,"m":-0.6,"1":-0.39,"2":-0.38,"3":-0.37,"4":-0.36,"5":-0.35,"6":-0.37,"7":-0.39,"8":-0.41,"9":-0.43,"10":-0.45,"11":-0.51,"12":-0.57,"13":-0.63,"14":-0.69,"15":-0.75,"16":-0.79,"17":-0.83,"18":-0.87,"19":-0.91,"20":-0.95},
{"p":"w20","x":10,"m":-0.95,"1":-0.74,"2":-0.73,"3":-0.72,"4":-0.71,"5":-0.7,"6":-0.72,"7":-0.74,"8":-0.76,"9":-0.78,"10":-0.8,"11":-0.86,"12":-0.92,"13":-0.98,"14":-1.04,"15":-1.1,"16":-1.14,"17":-1.18,"18":-1.22,"19":-1.26,"20":-1.3},
{"p":"w20","x":13,"m":-1.4,"1":-1.29,"2":-1.28,"3":-1.27,"4":-1.26,"5":-1.25,"6":-1.27,"7":-1.29,"8":-1.31,"9":-1.33,"10":-1.35,"11":-1.39,"12":-1.43,"13":-1.47,"14":-1.51,"15":-1.55,"16":-1.57,"17":-1.59,"18":-1.61,"19":-1.63,"20":-1.65},
{"p":"w20","x":15,"m":-1.55,"1":-1.44,"2":-1.43,"3":-1.42,"4":-1.41,"5":-1.4,"6":-1.42,"7":-1.44,"8":-1.46,"9":-1.48,"10":-1.5,"11":-1.53,"12":-1.56,"13":-1.59,"14":-1.62,"15":-1.65,"16":-1.67,"17":-1.69,"18":-1.71,"19":-1.73,"20":-1.75},
{"p":"w20","x":18,"m":-1.7,"1":-1.63,"2":-1.61,"3":-1.59,"4":-1.57,"5":-1.55,"6":-1.57,"7":-1.59,"8":-1.61,"9":-1.63,"10":-1.65,"11":-1.7,"12":-1.75,"13":-1.8,"14":-1.85,"15":-1.9,"16":-1.93,"17":-1.96,"18":-1.99,"19":-2.02,"20":-2.05},
{"p":"w20","x":21,"m":-1.9,"1":-1.82,"2":-1.79,"3":-1.76,"4":-1.73,"5":-1.7,"6":-1.72,"7":-1.74,"8":-1.76,"9":-1.78,"10":-1.8,"11":-1.87,"12":-1.94,"13":-2.01,"14":-2.08,"15":-2.15,"16":-2.19,"17":-2.23,"18":-2.27,"19":-2.31,"20":-2.35},
{"p":"w20","x":24,"m":-1.88,"1":-1.78,"2":-1.76,"3":-1.74,"4":-1.72,"5":-1.7,"6":-1.72,"7":-1.74,"8":-1.76,"9":-1.78,"10":-1.8,"11":-1.86,"12":-1.92,"13":-1.98,"14":-2.04,"15":-2.1,"16":-2.14,"17":-2.18,"18":-2.22,"19":-2.26,"20":-2.3},
{"p":"w20","x":27,"m":-1.9,"1":-1.8,"2":-1.78,"3":-1.76,"4":-1.74,"5":-1.72,"6":-1.74,"7":-1.76,"8":-1.78,"9":-1.8,"10":-1.82,"11":-1.88,"12":-1.94,"13":-2,"14":-2.06,"15":-2.12,"16":-2.16,"17":-2.2,"18":-2.24,"19":-2.28,"20":-2.32},
{"p":"w20","x":30,"m":-1.72,"1":-1.64,"2":-1.63,"3":-1.62,"4":-1.61,"5":-1.6,"6":-1.61,"7":-1.62,"8":-1.63,"9":-1.64,"10":-1.65,"11":-1.69,"12":-1.73,"13":-1.77,"14":-1.81,"15":-1.85,"16":-1.88,"17":-1.91,"18":-1.94,"19":-1.97,"20":-2},
{"p":"w20","x":35,"m":-1.45,"1":-1.42,"2":-1.41,"3":-1.4,"4":-1.39,"5":-1.38,"6":-1.39,"7":-1.4,"8":-1.41,"9":-1.42,"10":-1.43,"11":-1.45,"12":-1.47,"13":-1.49,"14":-1.51,"15":-1.53,"16":-1.54,"17":-1.55,"18":-1.56,"19":-1.57,"20":-1.58},
{"p":"w20","x":40,"m":-1.15,"1":-1.1,"2":-1.1,"3":-1.1,"4":-1.1,"5":-1.1,"6":-1.11,"7":-1.12,"8":-1.13,"9":-1.14,"10":-1.15,"11":-1.16,"12":-1.17,"13":-1.18,"14":-1.19,"15":-1.2,"16":-1.21,"17":-1.22,"18":-1.23,"19":-1.24,"20":-1.25},
{"p":"w20","x":45,"m":-1,"1":-1.02,"2":-1.01,"3":-1,"4":-0.99,"5":-0.98,"6":-0.98,"7":-0.98,"8":-0.98,"9":-0.98,"10":-0.98,"11":-0.99,"12":-1,"13":-1.01,"14":-1.02,"15":-1.03,"16":-1.03,"17":-1.03,"18":-1.03,"19":-1.03,"20":-1.03},
{"p":"w20","x":50,"m":-0.88,"1":-0.89,"2":-0.88,"3":-0.87,"4":-0.86,"5":-0.85,"6":-0.85,"7":-0.85,"8":-0.85,"9":-0.85,"10":-0.85,"11":-0.85,"12":-0.85,"13":-0.85,"14":-0.85,"15":-0.85,"16":-0.84,"17":-0.83,"18":-0.82,"19":-0.81,"20":-0.8},
{"p":"w20","x":53,"m":-0.95,"1":-0.96,"2":-0.95,"3":-0.94,"4":-0.93,"5":-0.92,"6":-0.92,"7":-0.92,"8":-0.92,"9":-0.92,"10":-0.92,"11":-0.92,"12":-0.92,"13":-0.92,"14":-0.92,"15":-0.92,"16":-0.91,"17":-0.9,"18":-0.89,"19":-0.88,"20":-0.87},
{"p":"w20","x":57,"m":-1.35,"1":-1.34,"2":-1.33,"3":-1.32,"4":-1.31,"5":-1.3,"6":-1.3,"7":-1.3,"8":-1.3,"9":-1.3,"10":-1.3,"11":-1.31,"12":-1.32,"13":-1.33,"14":-1.34,"15":-1.35,"16":-1.35,"17":-1.35,"18":-1.35,"19":-1.35,"20":-1.35},
{"p":"w20","x":60,"m":-1.8,"1":-1.86,"2":-1.84,"3":-1.82,"4":-1.8,"5":-1.78,"6":-1.78,"7":-1.78,"8":-1.78,"9":-1.78,"10":-1.78,"11":-1.78,"12":-1.78,"13":-1.78,"14":-1.78,"15":-1.78,"16":-1.77,"17":-1.76,"18":-1.75,"19":-1.74,"20":-1.73},
{"p":"w20","x":64,"m":-2.22,"1":-2.46,"2":-2.42,"3":-2.38,"4":-2.34,"5":-2.3,"6":-2.28,"7":-2.26,"8":-2.24,"9":-2.22,"10":-2.2,"11":-2.22,"12":-2.24,"13":-2.26,"14":-2.28,"15":-2.3,"16":-2.31,"17":-2.32,"18":-2.33,"19":-2.34,"20":-2.35},
{"p":"w20","x":67,"m":-2.42,"1":-2.62,"2":-2.59,"3":-2.56,"4":-2.53,"5":-2.5,"6":-2.47,"7":-2.44,"8":-2.41,"9":-2.38,"10":-2.35,"11":-2.38,"12":-2.41,"13":-2.44,"14":-2.47,"15":-2.5,"16":-2.52,"17":-2.54,"18":-2.56,"19":-2.58,"20":-2.6},
{"p":"w20","x":69,"m":-2.45,"1":-2.56,"2":-2.52,"3":-2.48,"4":-2.44,"5":-2.4,"6":-2.38,"7":-2.36,"8":-2.34,"9":-2.32,"10":-2.3,"11":-2.35,"12":-2.4,"13":-2.45,"14":-2.5,"15":-2.55,"16":-2.58,"17":-2.61,"18":-2.64,"19":-2.67,"20":-2.7},
{"p":"w20","x":72,"m":-2.2,"1":-2.25,"2":-2.2,"3":-2.15,"4":-2.1,"5":-2.05,"6":-2.05,"7":-2.05,"8":-2.05,"9":-2.05,"10":-2.05,"11":-2.11,"12":-2.17,"13":-2.23,"14":-2.29,"15":-2.35,"16":-2.39,"17":-2.43,"18":-2.47,"19":-2.51,"20":-2.55},
{"p":"w20","x":76,"m":-1.85,"1":-1.68,"2":-1.66,"3":-1.64,"4":-1.62,"5":-1.6,"6":-1.61,"7":-1.62,"8":-1.63,"9":-1.64,"10":-1.65,"11":-1.74,"12":-1.83,"13":-1.92,"14":-2.01,"15":-2.1,"16":-2.15,"17":-2.2,"18":-2.25,"19":-2.3,"20":-2.35},
{"p":"w20","x":80,"m":-1.65,"1":-1.31,"2":-1.32,"3":-1.33,"4":-1.34,"5":-1.35,"6":-1.37,"7":-1.39,"8":-1.41,"9":-1.43,"10":-1.45,"11":-1.54,"12":-1.63,"13":-1.72,"14":-1.81,"15":-1.9,"16":-1.96,"17":-2.02,"18":-2.08,"19":-2.14,"20":-2.2},
{"p":"w20","x":85,"m":-1.35,"1":-1.06,"2":-1.07,"3":-1.08,"4":-1.09,"5":-1.1,"6":-1.12,"7":-1.14,"8":-1.16,"9":-1.18,"10":-1.2,"11":-1.28,"12":-1.36,"13":-1.44,"14":-1.52,"15":-1.6,"16":-1.66,"17":-1.72,"18":-1.78,"19":-1.84,"20":-1.9},
{"p":"w20","x":90,"m":-1,"1":-0.8,"2":-0.8,"3":-0.8,"4":-0.8,"5":-0.8,"6":-0.81,"7":-0.82,"8":-0.83,"9":-0.84,"10":-0.85,"11":-0.91,"12":-0.97,"13":-1.03,"14":-1.09,"15":-1.15,"16":-1.22,"17":-1.29,"18":-1.36,"19":-1.43,"20":-1.5},
{"p":"w20","x":95,"m":-0.55,"1":-0.35,"2":-0.35,"3":-0.35,"4":-0.35,"5":-0.35,"6":-0.36,"7":-0.37,"8":-0.38,"9":-0.39,"10":-0.4,"11":-0.46,"12":-0.52,"13":-0.58,"14":-0.64,"15":-0.7,"16":-0.73,"17":-0.76,"18":-0.79,"19":-0.82,"20":-0.85},
{"p":"w20","x":98,"m":-0.35,"1":-0.23,"2":-0.21,"3":-0.19,"4":-0.17,"5":-0.15,"6":-0.17,"7":-0.19,"8":-0.21,"9":-0.23,"10":-0.25,"11":-0.29,"12":-0.33,"13":-0.37,"14":-0.41,"15":-0.45,"16":-0.48,"17":-0.51,"18":-0.54,"19":-0.57,"20":-0.6},
{"p":"w20","x":100,"m":-0.2,"1":-0.21,"2":-0.17,"3":-0.13,"4":-0.09,"5":-0.05,"6":-0.07,"7":-0.09,"8":-0.11,"9":-0.13,"10":-0.15,"11":-0.18,"12":-0.21,"13":-0.24,"14":-0.27,"15":-0.3,"16":-0.33,"17":-0.36,"18":-0.39,"19":-0.42,"20":-0.45},
{"p":"r40","x":1,"m":0.28,"1":0.38,"2":0.39,"3":0.4,"4":0.41,"5":0.42,"6":0.4,"7":0.38,"8":0.36,"9":0.34,"10":0.32,"11":0.3,"12":0.28,"13":0.26,"14":0.24,"15":0.22,"16":0.2,"17":0.18,"18":0.16,"19":0.14,"20":0.12},
{"p":"r40","x":4,"m":0.12,"1":0.26,"2":0.27,"3":0.28,"4":0.29,"5":0.3,"6":0.28,"7":0.26,"8":0.24,"9":0.22,"10":0.2,"11":0.17,"12":0.14,"13":0.11,"14":0.08,"15":0.05,"16":0.04,"17":0.03,"18":0.02,"19":0.01,"20":0},
{"p":"r40","x":6,"m":-0.1,"1":0.01,"2":0.02,"3":0.03,"4":0.04,"5":0.05,"6":0.03,"7":0.01,"8":-0.01,"9":-0.03,"10":-0.05,"11":-0.06,"12":-0.07,"13":-0.08,"14":-0.09,"15":-0.1,"16":-0.11,"17":-0.12,"18":-0.13,"19":-0.14,"20":-0.15},
{"p":"r40","x":8,"m":-0.5,"1":-0.31,"2":-0.32,"3":-0.33,"4":-0.34,"5":-0.35,"6":-0.38,"7":-0.41,"8":-0.44,"9":-0.47,"10":-0.5,"11":-0.52,"12":-0.54,"13":-0.56,"14":-0.58,"15":-0.6,"16":-0.62,"17":-0.64,"18":-0.66,"19":-0.68,"20":-0.7},
{"p":"r40","x":10,"m":-0.95,"1":-0.71,"2":-0.72,"3":-0.73,"4":-0.74,"5":-0.75,"6":-0.79,"7":-0.83,"8":-0.87,"9":-0.91,"10":-0.95,"11":-0.99,"12":-1.03,"13":-1.07,"14":-1.11,"15":-1.15,"16":-1.17,"17":-1.19,"18":-1.21,"19":-1.23,"20":-1.25},
{"p":"r40","x":12,"m":-0.95,"1":-0.54,"2":-0.58,"3":-0.62,"4":-0.66,"5":-0.7,"6":-0.76,"7":-0.82,"8":-0.88,"9":-0.94,"10":-1,"11":-1.04,"12":-1.08,"13":-1.12,"14":-1.16,"15":-1.2,"16":-1.22,"17":-1.24,"18":-1.26,"19":-1.28,"20":-1.3},
{"p":"r40","x":14,"m":-0.95,"1":-0.43,"2":-0.46,"3":-0.49,"4":-0.52,"5":-0.55,"6":-0.64,"7":-0.73,"8":-0.82,"9":-0.91,"10":-1,"11":-1.05,"12":-1.1,"13":-1.15,"14":-1.2,"15":-1.25,"16":-1.28,"17":-1.31,"18":-1.34,"19":-1.37,"20":-1.4},
{"p":"r40","x":16,"m":-0.75,"1":-0.07,"2":-0.14,"3":-0.21,"4":-0.28,"5":-0.35,"6":-0.45,"7":-0.55,"8":-0.65,"9":-0.75,"10":-0.85,"11":-0.89,"12":-0.93,"13":-0.97,"14":-1.01,"15":-1.05,"16":-1.08,"17":-1.11,"18":-1.14,"19":-1.17,"20":-1.2},
{"p":"r40","x":18,"m":-0.62,"1":-0.01,"2":-0.07,"3":-0.13,"4":-0.19,"5":-0.25,"6":-0.35,"7":-0.45,"8":-0.55,"9":-0.65,"10":-0.75,"11":-0.79,"12":-0.83,"13":-0.87,"14":-0.91,"15":-0.95,"16":-0.97,"17":-0.99,"18":-1.01,"19":-1.03,"20":-1.05},
{"p":"r40","x":20,"m":-0.55,"1":0.04,"2":-0.02,"3":-0.08,"4":-0.14,"5":-0.2,"6":-0.3,"7":-0.4,"8":-0.5,"9":-0.6,"10":-0.7,"11":-0.73,"12":-0.76,"13":-0.79,"14":-0.82,"15":-0.85,"16":-0.87,"17":-0.89,"18":-0.91,"19":-0.93,"20":-0.95},
{"p":"r40","x":25,"m":-0.25,"1":0.35,"2":0.3,"3":0.25,"4":0.2,"5":0.15,"6":0.05,"7":-0.05,"8":-0.15,"9":-0.25,"10":-0.35,"11":-0.38,"12":-0.41,"13":-0.44,"14":-0.47,"15":-0.5,"16":-0.52,"17":-0.54,"18":-0.56,"19":-0.58,"20":-0.6},
{"p":"r40","x":30,"m":0.3,"1":0.68,"2":0.69,"3":0.7,"4":0.71,"5":0.72,"6":0.61,"7":0.5,"8":0.39,"9":0.28,"10":0.17,"11":0.14,"12":0.11,"13":0.08,"14":0.05,"15":0.02,"16":0,"17":-0.02,"18":-0.04,"19":-0.06,"20":-0.08},
{"p":"r40","x":32,"m":0.55,"1":0.87,"2":0.89,"3":0.91,"4":0.93,"5":0.95,"6":0.84,"7":0.73,"8":0.62,"9":0.51,"10":0.4,"11":0.38,"12":0.36,"13":0.34,"14":0.32,"15":0.3,"16":0.28,"17":0.26,"18":0.24,"19":0.22,"20":0.2},
{"p":"r40","x":35,"m":0.65,"1":0.76,"2":0.77,"3":0.78,"4":0.79,"5":0.8,"6":0.76,"7":0.72,"8":0.68,"9":0.64,"10":0.6,"11":0.59,"12":0.58,"13":0.57,"14":0.56,"15":0.55,"16":0.54,"17":0.53,"18":0.52,"19":0.51,"20":0.5},
{"p":"r40","x":37,"m":0.45,"1":0.34,"2":0.38,"3":0.42,"4":0.46,"5":0.5,"6":0.5,"7":0.5,"8":0.5,"9":0.5,"10":0.5,"11":0.51,"12":0.52,"13":0.53,"14":0.54,"15":0.55,"16":0.55,"17":0.55,"18":0.55,"19":0.55,"20":0.55},
{"p":"r40","x":39,"m":0.05,"1":-0.3,"2":-0.25,"3":-0.2,"4":-0.15,"5":-0.1,"6":-0.05,"7":0,"8":0.05,"9":0.1,"10":0.15,"11":0.19,"12":0.23,"13":0.27,"14":0.31,"15":0.35,"16":0.37,"17":0.39,"18":0.41,"19":0.43,"20":0.45},
{"p":"r40","x":42,"m":-0.4,"1":-0.92,"2":-0.84,"3":-0.76,"4":-0.68,"5":-0.6,"6":-0.54,"7":-0.48,"8":-0.42,"9":-0.36,"10":-0.3,"11":-0.23,"12":-0.16,"13":-0.09,"14":-0.02,"15":0.05,"16":0.08,"17":0.11,"18":0.14,"19":0.17,"20":0.2},
{"p":"r40","x":45,"m":-0.75,"1":-1.29,"2":-1.23,"3":-1.17,"4":-1.11,"5":-1.05,"6":-0.97,"7":-0.89,"8":-0.81,"9":-0.73,"10":-0.65,"11":-0.58,"12":-0.51,"13":-0.44,"14":-0.37,"15":-0.3,"16":-0.27,"17":-0.24,"18":-0.21,"19":-0.18,"20":-0.15},
{"p":"r40","x":48,"m":-0.85,"1":-1.58,"2":-1.51,"3":-1.44,"4":-1.37,"5":-1.3,"6":-1.2,"7":-1.1,"8":-1,"9":-0.9,"10":-0.8,"11":-0.74,"12":-0.68,"13":-0.62,"14":-0.56,"15":-0.5,"16":-0.47,"17":-0.44,"18":-0.41,"19":-0.38,"20":-0.35},
{"p":"r40","x":52,"m":-1.1,"1":-1.69,"2":-1.63,"3":-1.57,"4":-1.51,"5":-1.45,"6":-1.37,"7":-1.29,"8":-1.21,"9":-1.13,"10":-1.05,"11":-1.01,"12":-0.97,"13":-0.93,"14":-0.89,"15":-0.85,"16":-0.83,"17":-0.81,"18":-0.79,"19":-0.77,"20":-0.75},
{"p":"r40","x":56,"m":-1.45,"1":-1.79,"2":-1.73,"3":-1.67,"4":-1.61,"5":-1.55,"6":-1.52,"7":-1.49,"8":-1.46,"9":-1.43,"10":-1.4,"11":-1.39,"12":-1.38,"13":-1.37,"14":-1.36,"15":-1.35,"16":-1.34,"17":-1.33,"18":-1.32,"19":-1.31,"20":-1.3},
{"p":"r40","x":60,"m":-1.8,"1":-1.86,"2":-1.82,"3":-1.78,"4":-1.74,"5":-1.7,"6":-1.71,"7":-1.72,"8":-1.73,"9":-1.74,"10":-1.75,"11":-1.77,"12":-1.79,"13":-1.81,"14":-1.83,"15":-1.85,"16":-1.87,"17":-1.89,"18":-1.91,"19":-1.93,"20":-1.95},
{"p":"r40","x":64,"m":-2.1,"1":-2.02,"2":-1.99,"3":-1.96,"4":-1.93,"5":-1.9,"6":-1.92,"7":-1.94,"8":-1.96,"9":-1.98,"10":-2,"11":-2.05,"12":-2.1,"13":-2.15,"14":-2.2,"15":-2.25,"16":-2.29,"17":-2.33,"18":-2.37,"19":-2.41,"20":-2.45},
{"p":"r40","x":68,"m":-2,"1":-1.79,"2":-1.78,"3":-1.77,"4":-1.76,"5":-1.75,"6":-1.78,"7":-1.81,"8":-1.84,"9":-1.87,"10":-1.9,"11":-1.98,"12":-2.06,"13":-2.14,"14":-2.22,"15":-2.3,"16":-2.35,"17":-2.4,"18":-2.45,"19":-2.5,"20":-2.55},
{"p":"r40","x":72,"m":-1.75,"1":-1.54,"2":-1.53,"3":-1.52,"4":-1.51,"5":-1.5,"6":-1.53,"7":-1.56,"8":-1.59,"9":-1.62,"10":-1.65,"11":-1.72,"12":-1.79,"13":-1.86,"14":-1.93,"15":-2,"16":-2.06,"17":-2.12,"18":-2.18,"19":-2.24,"20":-2.3},
{"p":"r40","x":76,"m":-1.45,"1":-1.2,"2":-1.2,"3":-1.2,"4":-1.2,"5":-1.2,"6":-1.23,"7":-1.26,"8":-1.29,"9":-1.32,"10":-1.35,"11":-1.44,"12":-1.53,"13":-1.62,"14":-1.71,"15":-1.8,"16":-1.86,"17":-1.92,"18":-1.98,"19":-2.04,"20":-2.1},
{"p":"r40","x":80,"m":-1.15,"1":-0.85,"2":-0.85,"3":-0.85,"4":-0.85,"5":-0.85,"6":-0.88,"7":-0.91,"8":-0.94,"9":-0.97,"10":-1,"11":-1.08,"12":-1.16,"13":-1.24,"14":-1.32,"15":-1.4,"16":-1.46,"17":-1.52,"18":-1.58,"19":-1.64,"20":-1.7},
{"p":"r40","x":85,"m":-0.9,"1":-0.64,"2":-0.63,"3":-0.62,"4":-0.61,"5":-0.6,"6":-0.63,"7":-0.66,"8":-0.69,"9":-0.72,"10":-0.75,"11":-0.82,"12":-0.89,"13":-0.96,"14":-1.03,"15":-1.1,"16":-1.14,"17":-1.18,"18":-1.22,"19":-1.26,"20":-1.3},
{"p":"r40","x":88,"m":-0.65,"1":-0.43,"2":-0.41,"3":-0.39,"4":-0.37,"5":-0.35,"6":-0.38,"7":-0.41,"8":-0.44,"9":-0.47,"10":-0.5,"11":-0.56,"12":-0.62,"13":-0.68,"14":-0.74,"15":-0.8,"16":-0.84,"17":-0.88,"18":-0.92,"19":-0.96,"20":-1},
{"p":"r40","x":91,"m":-0.65,"1":-0.48,"2":-0.46,"3":-0.44,"4":-0.42,"5":-0.4,"6":-0.43,"7":-0.46,"8":-0.49,"9":-0.52,"10":-0.55,"11":-0.59,"12":-0.63,"13":-0.67,"14":-0.71,"15":-0.75,"16":-0.77,"17":-0.79,"18":-0.81,"19":-0.83,"20":-0.85},
{"p":"r40","x":94,"m":-0.25,"1":-0.09,"2":-0.08,"3":-0.07,"4":-0.06,"5":-0.05,"6":-0.07,"7":-0.09,"8":-0.11,"9":-0.13,"10":-0.15,"11":-0.18,"12":-0.21,"13":-0.24,"14":-0.27,"15":-0.3,"16":-0.3,"17":-0.3,"18":-0.3,"19":-0.3,"20":-0.3},
{"p":"r40","x":97,"m":0.1,"1":0.09,"2":0.13,"3":0.17,"4":0.21,"5":0.25,"6":0.23,"7":0.21,"8":0.19,"9":0.17,"10":0.15,"11":0.13,"12":0.11,"13":0.09,"14":0.07,"15":0.05,"16":0.05,"17":0.05,"18":0.05,"19":0.05,"20":0.05},
{"p":"r40","x":100,"m":0.28,"1":0.22,"2":0.27,"3":0.32,"4":0.37,"5":0.42,"6":0.4,"7":0.38,"8":0.36,"9":0.34,"10":0.32,"11":0.3,"12":0.28,"13":0.26,"14":0.24,"15":0.22,"16":0.2,"17":0.18,"18":0.16,"19":0.14,"20":0.12},
{"p":"r50","x":1,"m":0.75,"1":0.62,"2":0.64,"3":0.66,"4":0.68,"5":0.7,"6":0.72,"7":0.74,"8":0.76,"9":0.78,"10":0.8,"11":0.81,"12":0.82,"13":0.83,"14":0.84,"15":0.85,"16":0.82,"17":0.79,"18":0.76,"19":0.73,"20":0.7},
{"p":"r50","x":4,"m":0.72,"1":0.71,"2":0.72,"3":0.73,"4":0.74,"5":0.75,"6":0.76,"7":0.77,"8":0.78,"9":0.79,"10":0.8,"11":0.8,"12":0.8,"13":0.8,"14":0.8,"15":0.8,"16":0.78,"17":0.76,"18":0.74,"19":0.72,"20":0.7},
{"p":"r50","x":6,"m":0.45,"1":0.46,"2":0.47,"3":0.48,"4":0.49,"5":0.5,"6":0.49,"7":0.48,"8":0.47,"9":0.46,"10":0.45,"11":0.45,"12":0.45,"13":0.45,"14":0.45,"15":0.45,"16":0.44,"17":0.43,"18":0.42,"19":0.41,"20":0.4},
{"p":"r50","x":8,"m":0,"1":0.09,"2":0.08,"3":0.07,"4":0.06,"5":0.05,"6":0.03,"7":0.01,"8":-0.01,"9":-0.03,"10":-0.05,"11":-0.05,"12":-0.05,"13":-0.05,"14":-0.05,"15":-0.05,"16":-0.06,"17":-0.07,"18":-0.08,"19":-0.09,"20":-0.1},
{"p":"r50","x":10,"m":-0.4,"1":-0.3,"2":-0.3,"3":-0.3,"4":-0.3,"5":-0.3,"6":-0.33,"7":-0.36,"8":-0.39,"9":-0.42,"10":-0.45,"11":-0.47,"12":-0.49,"13":-0.51,"14":-0.53,"15":-0.55,"16":-0.56,"17":-0.57,"18":-0.58,"19":-0.59,"20":-0.6},
{"p":"r50","x":12,"m":-0.62,"1":-0.46,"2":-0.47,"3":-0.48,"4":-0.49,"5":-0.5,"6":-0.54,"7":-0.58,"8":-0.62,"9":-0.66,"10":-0.7,"11":-0.72,"12":-0.74,"13":-0.76,"14":-0.78,"15":-0.8,"16":-0.81,"17":-0.82,"18":-0.83,"19":-0.84,"20":-0.85},
{"p":"r50","x":14,"m":-0.55,"1":-0.09,"2":-0.13,"3":-0.17,"4":-0.21,"5":-0.25,"6":-0.34,"7":-0.43,"8":-0.52,"9":-0.61,"10":-0.7,"11":-0.73,"12":-0.76,"13":-0.79,"14":-0.82,"15":-0.85,"16":-0.86,"17":-0.87,"18":-0.88,"19":-0.89,"20":-0.9},
{"p":"r50","x":16,"m":-0.45,"1":0.15,"2":0.1,"3":0.05,"4":0,"5":-0.05,"6":-0.16,"7":-0.27,"8":-0.38,"9":-0.49,"10":-0.6,"11":-0.63,"12":-0.66,"13":-0.69,"14":-0.72,"15":-0.75,"16":-0.77,"17":-0.79,"18":-0.81,"19":-0.83,"20":-0.85},
{"p":"r50","x":18,"m":-0.35,"1":0.39,"2":0.33,"3":0.27,"4":0.21,"5":0.15,"6":0.03,"7":-0.09,"8":-0.21,"9":-0.33,"10":-0.45,"11":-0.49,"12":-0.53,"13":-0.57,"14":-0.61,"15":-0.65,"16":-0.68,"17":-0.71,"18":-0.74,"19":-0.77,"20":-0.8},
{"p":"r50","x":20,"m":-0.35,"1":0.32,"2":0.29,"3":0.26,"4":0.23,"5":0.2,"6":0.08,"7":-0.04,"8":-0.16,"9":-0.28,"10":-0.4,"11":-0.44,"12":-0.48,"13":-0.52,"14":-0.56,"15":-0.6,"16":-0.63,"17":-0.66,"18":-0.69,"19":-0.72,"20":-0.75},
{"p":"r50","x":23,"m":-0.2,"1":0.42,"2":0.39,"3":0.36,"4":0.33,"5":0.3,"6":0.2,"7":0.1,"8":0,"9":-0.1,"10":-0.2,"11":-0.25,"12":-0.3,"13":-0.35,"14":-0.4,"15":-0.45,"16":-0.49,"17":-0.53,"18":-0.57,"19":-0.61,"20":-0.65},
{"p":"r50","x":26,"m":0.15,"1":0.62,"2":0.59,"3":0.56,"4":0.53,"5":0.5,"6":0.41,"7":0.32,"8":0.23,"9":0.14,"10":0.05,"11":0.01,"12":-0.03,"13":-0.07,"14":-0.11,"15":-0.15,"16":-0.18,"17":-0.21,"18":-0.24,"19":-0.27,"20":-0.3},
{"p":"r50","x":30,"m":0.55,"1":0.95,"2":0.9,"3":0.85,"4":0.8,"5":0.75,"6":0.68,"7":0.61,"8":0.54,"9":0.47,"10":0.4,"11":0.37,"12":0.34,"13":0.31,"14":0.28,"15":0.25,"16":0.26,"17":0.27,"18":0.28,"19":0.29,"20":0.3},
{"p":"r50","x":32,"m":0.47,"1":0.72,"2":0.69,"3":0.66,"4":0.63,"5":0.6,"6":0.56,"7":0.52,"8":0.48,"9":0.44,"10":0.4,"11":0.36,"12":0.32,"13":0.28,"14":0.24,"15":0.2,"16":0.21,"17":0.22,"18":0.23,"19":0.24,"20":0.25},
{"p":"r50","x":35,"m":0.35,"1":0.15,"2":0.2,"3":0.25,"4":0.3,"5":0.35,"6":0.35,"7":0.35,"8":0.35,"9":0.35,"10":0.35,"11":0.36,"12":0.37,"13":0.38,"14":0.39,"15":0.4,"16":0.42,"17":0.44,"18":0.46,"19":0.48,"20":0.5},
{"p":"r50","x":38,"m":0,"1":-0.45,"2":-0.4,"3":-0.35,"4":-0.3,"5":-0.25,"6":-0.19,"7":-0.13,"8":-0.07,"9":-0.01,"10":0.05,"11":0.1,"12":0.15,"13":0.2,"14":0.25,"15":0.3,"16":0.3,"17":0.3,"18":0.3,"19":0.3,"20":0.3},
{"p":"r50","x":40,"m":-0.25,"1":-0.79,"2":-0.73,"3":-0.67,"4":-0.61,"5":-0.55,"6":-0.48,"7":-0.41,"8":-0.34,"9":-0.27,"10":-0.2,"11":-0.14,"12":-0.08,"13":-0.02,"14":0.04,"15":0.1,"16":0.11,"17":0.12,"18":0.13,"19":0.14,"20":0.15},
{"p":"r50","x":42,"m":-0.55,"1":-1.04,"2":-0.98,"3":-0.92,"4":-0.86,"5":-0.8,"6":-0.73,"7":-0.66,"8":-0.59,"9":-0.52,"10":-0.45,"11":-0.39,"12":-0.33,"13":-0.27,"14":-0.21,"15":-0.15,"16":-0.12,"17":-0.09,"18":-0.06,"19":-0.03,"20":0},
{"p":"r50","x":45,"m":-0.8,"1":-1.42,"2":-1.34,"3":-1.26,"4":-1.18,"5":-1.1,"6":-1.03,"7":-0.96,"8":-0.89,"9":-0.82,"10":-0.75,"11":-0.69,"12":-0.63,"13":-0.57,"14":-0.51,"15":-0.45,"16":-0.42,"17":-0.39,"18":-0.36,"19":-0.33,"20":-0.3},
{"p":"r50","x":50,"m":-1.1,"1":-1.72,"2":-1.64,"3":-1.56,"4":-1.48,"5":-1.4,"6":-1.32,"7":-1.24,"8":-1.16,"9":-1.08,"10":-1,"11":-0.97,"12":-0.94,"13":-0.91,"14":-0.88,"15":-0.85,"16":-0.81,"17":-0.77,"18":-0.73,"19":-0.69,"20":-0.65},
{"p":"r50","x":55,"m":-1.4,"1":-1.85,"2":-1.8,"3":-1.75,"4":-1.7,"5":-1.65,"6":-1.59,"7":-1.53,"8":-1.47,"9":-1.41,"10":-1.35,"11":-1.32,"12":-1.29,"13":-1.26,"14":-1.23,"15":-1.2,"16":-1.17,"17":-1.14,"18":-1.11,"19":-1.08,"20":-1.05},
{"p":"r50","x":60,"m":-1.85,"1":-2.07,"2":-2.04,"3":-2.01,"4":-1.98,"5":-1.95,"6":-1.93,"7":-1.91,"8":-1.89,"9":-1.87,"10":-1.85,"11":-1.84,"12":-1.83,"13":-1.82,"14":-1.81,"15":-1.8,"16":-1.79,"17":-1.78,"18":-1.77,"19":-1.76,"20":-1.75},
{"p":"r50","x":63,"m":-2,"1":-1.96,"2":-1.92,"3":-1.88,"4":-1.84,"5":-1.8,"6":-1.82,"7":-1.84,"8":-1.86,"9":-1.88,"10":-1.9,"11":-1.94,"12":-1.98,"13":-2.02,"14":-2.06,"15":-2.1,"16":-2.14,"17":-2.18,"18":-2.22,"19":-2.26,"20":-2.3},
{"p":"r50","x":66,"m":-2.05,"1":-1.79,"2":-1.78,"3":-1.77,"4":-1.76,"5":-1.75,"6":-1.77,"7":-1.79,"8":-1.81,"9":-1.83,"10":-1.85,"11":-1.93,"12":-2.01,"13":-2.09,"14":-2.17,"15":-2.25,"16":-2.31,"17":-2.37,"18":-2.43,"19":-2.49,"20":-2.55},
{"p":"r50","x":69,"m":-1.95,"1":-1.61,"2":-1.62,"3":-1.63,"4":-1.64,"5":-1.65,"6":-1.67,"7":-1.69,"8":-1.71,"9":-1.73,"10":-1.75,"11":-1.82,"12":-1.89,"13":-1.96,"14":-2.03,"15":-2.1,"16":-2.16,"17":-2.22,"18":-2.28,"19":-2.34,"20":-2.4},
{"p":"r50","x":72,"m":-1.6,"1":-1.31,"2":-1.32,"3":-1.33,"4":-1.34,"5":-1.35,"6":-1.38,"7":-1.41,"8":-1.44,"9":-1.47,"10":-1.5,"11":-1.58,"12":-1.66,"13":-1.74,"14":-1.82,"15":-1.9,"16":-1.96,"17":-2.02,"18":-2.08,"19":-2.14,"20":-2.2},
{"p":"r50","x":76,"m":-1.1,"1":-0.85,"2":-0.85,"3":-0.85,"4":-0.85,"5":-0.85,"6":-0.89,"7":-0.93,"8":-0.97,"9":-1.01,"10":-1.05,"11":-1.13,"12":-1.21,"13":-1.29,"14":-1.37,"15":-1.45,"16":-1.51,"17":-1.57,"18":-1.63,"19":-1.69,"20":-1.75},
{"p":"r50","x":80,"m":-0.85,"1":-0.54,"2":-0.53,"3":-0.52,"4":-0.51,"5":-0.5,"6":-0.54,"7":-0.58,"8":-0.62,"9":-0.66,"10":-0.7,"11":-0.77,"12":-0.84,"13":-0.91,"14":-0.98,"15":-1.05,"16":-1.1,"17":-1.15,"18":-1.2,"19":-1.25,"20":-1.3},
{"p":"r50","x":85,"m":-0.55,"1":-0.29,"2":-0.28,"3":-0.27,"4":-0.26,"5":-0.25,"6":-0.28,"7":-0.31,"8":-0.34,"9":-0.37,"10":-0.4,"11":-0.45,"12":-0.5,"13":-0.55,"14":-0.6,"15":-0.65,"16":-0.68,"17":-0.71,"18":-0.74,"19":-0.77,"20":-0.8},
{"p":"r50","x":90,"m":-0.4,"1":-0.24,"2":-0.21,"3":-0.18,"4":-0.15,"5":-0.12,"6":-0.16,"7":-0.2,"8":-0.24,"9":-0.28,"10":-0.32,"11":-0.37,"12":-0.42,"13":-0.47,"14":-0.52,"15":-0.57,"16":-0.6,"17":-0.63,"18":-0.66,"19":-0.69,"20":-0.72},
{"p":"r50","x":93,"m":0,"1":0.04,"2":0.03,"3":0.02,"4":0.01,"5":0,"6":0.01,"7":0.02,"8":0.03,"9":0.04,"10":0.05,"11":0.03,"12":0.01,"13":-0.01,"14":-0.03,"15":-0.05,"16":-0.05,"17":-0.05,"18":-0.05,"19":-0.05,"20":-0.05},
{"p":"r50","x":96,"m":0.3,"1":0.13,"2":0.16,"3":0.19,"4":0.22,"5":0.25,"6":0.28,"7":0.31,"8":0.34,"9":0.37,"10":0.4,"11":0.39,"12":0.38,"13":0.37,"14":0.36,"15":0.35,"16":0.34,"17":0.33,"18":0.32,"19":0.31,"20":0.3},
{"p":"r50","x":100,"m":0.65,"1":0.47,"2":0.49,"3":0.51,"4":0.53,"5":0.55,"6":0.59,"7":0.63,"8":0.67,"9":0.71,"10":0.75,"11":0.74,"12":0.73,"13":0.72,"14":0.71,"15":0.7,"16":0.68,"17":0.66,"18":0.64,"19":0.62,"20":0.6}
]},
"spacing":45,
"vconcat":[
{"spacing":22,"hconcat":[
{"width":384,"height":237,"title":"Walk 0.7 m s⁻¹","transform":[{"filter":"datum.p=='w07'"}],"layer":[
{"transform":[{"fold":["1","2","3","4","5","6","7","8","9","10","11","12","13","14","15","16","17","18","19","20"],"as":["k","y"]}],"mark":{"type":"line","strokeWidth":1.3,"interpolate":"monotone"},"encoding":{"x":{"field":"x","type":"quantitative","title":"Stride Cycle [%]","scale":{"domain":[-2.2,102.3],"nice":false,"zero":false},"axis":{"values":[0,10,20,30,40,50,60,70,80,90,100],"labelOverlap":false,"tickSize":-4,"labelPadding":13,"titlePadding":12}},"y":{"field":"y","type":"quantitative","title":"Thickness Change [mm]","scale":{"domain":[-3,2.5],"nice":false,"zero":false},"axis":{"values":[-3,-2,-1,0,1,2],"format":".1f","tickSize":4,"labelPadding":2,"titlePadding":8}},"color":{"field":"k","type":"ordinal","legend":null,"scale":{"domain":["1","2","3","4","5","6","7","8","9","10","11","12","13","14","15","16","17","18","19","20"],"range":["#7A1A87","#4B20AF","#3C37C6","#3F55CF","#4070CD","#4887C9","#5199B6","#58A69F","#6AAE8D","#7BB276","#8DBC69","#A0BE58","#B3BD4B","#C6B746","#D6AB41","#DFA13E","#E68C37","#E77332","#E2542D","#DA2222"]}}}},
{"mark":{"type":"rule","strokeWidth":2.5,"color":"#000"},"encoding":{"y":{"datum":0,"type":"quantitative"}}},
{"mark":{"type":"line","strokeWidth":3.5,"color":"#000","interpolate":"monotone"},"encoding":{"x":{"field":"x","type":"quantitative","title":"Stride Cycle [%]","axis":{"values":[0,10,20,30,40,50,60,70,80,90,100],"labelOverlap":false,"tickSize":-4,"labelPadding":13,"titlePadding":12}},"y":{"field":"m","type":"quantitative","title":"Thickness Change [mm]"}}}]},
{"width":384,"height":237,"title":"Run 2.0 m s⁻¹","transform":[{"filter":"datum.p=='r20'"}],"layer":[
{"transform":[{"fold":["1","2","3","4","5","6","7","8","9","10","11","12","13","14","15","16","17","18","19","20"],"as":["k","y"]}],"mark":{"type":"line","strokeWidth":1.3,"interpolate":"monotone"},"encoding":{"x":{"field":"x","type":"quantitative","title":"Stride Cycle [%]","scale":{"domain":[-2.2,102.3],"nice":false,"zero":false},"axis":{"values":[0,10,20,30,40,50,60,70,80,90,100],"labelOverlap":false,"tickSize":-4,"labelPadding":13,"titlePadding":12}},"y":{"field":"y","type":"quantitative","title":"Thickness Change [mm]","scale":{"domain":[-3,2.5],"nice":false,"zero":false},"axis":{"values":[-3,-2,-1,0,1,2],"format":".1f","tickSize":4,"labelPadding":2,"titlePadding":8}},"color":{"field":"k","type":"ordinal","legend":null,"scale":{"domain":["1","2","3","4","5","6","7","8","9","10","11","12","13","14","15","16","17","18","19","20"],"range":["#7A1A87","#4B20AF","#3C37C6","#3F55CF","#4070CD","#4887C9","#5199B6","#58A69F","#6AAE8D","#7BB276","#8DBC69","#A0BE58","#B3BD4B","#C6B746","#D6AB41","#DFA13E","#E68C37","#E77332","#E2542D","#DA2222"]}}}},
{"mark":{"type":"rule","strokeWidth":2.5,"color":"#000"},"encoding":{"y":{"datum":0,"type":"quantitative"}}},
{"mark":{"type":"line","strokeWidth":3.5,"color":"#000","interpolate":"monotone"},"encoding":{"x":{"field":"x","type":"quantitative","title":"Stride Cycle [%]","axis":{"values":[0,10,20,30,40,50,60,70,80,90,100],"labelOverlap":false,"tickSize":-4,"labelPadding":13,"titlePadding":12}},"y":{"field":"m","type":"quantitative","title":"Thickness Change [mm]"}}}]}]},
{"spacing":22,"hconcat":[
{"width":384,"height":237,"title":"Walk 1.4 m s⁻¹","transform":[{"filter":"datum.p=='w14'"}],"layer":[
{"transform":[{"fold":["1","2","3","4","5","6","7","8","9","10","11","12","13","14","15","16","17","18","19","20"],"as":["k","y"]}],"mark":{"type":"line","strokeWidth":1.3,"interpolate":"monotone"},"encoding":{"x":{"field":"x","type":"quantitative","title":"Stride Cycle [%]","scale":{"domain":[-2.2,102.3],"nice":false,"zero":false},"axis":{"values":[0,10,20,30,40,50,60,70,80,90,100],"labelOverlap":false,"tickSize":-4,"labelPadding":13,"titlePadding":12}},"y":{"field":"y","type":"quantitative","title":"Thickness Change [mm]","scale":{"domain":[-3,2.5],"nice":false,"zero":false},"axis":{"values":[-3,-2,-1,0,1,2],"format":".1f","tickSize":4,"labelPadding":2,"titlePadding":8}},"color":{"field":"k","type":"ordinal","legend":null,"scale":{"domain":["1","2","3","4","5","6","7","8","9","10","11","12","13","14","15","16","17","18","19","20"],"range":["#7A1A87","#4B20AF","#3C37C6","#3F55CF","#4070CD","#4887C9","#5199B6","#58A69F","#6AAE8D","#7BB276","#8DBC69","#A0BE58","#B3BD4B","#C6B746","#D6AB41","#DFA13E","#E68C37","#E77332","#E2542D","#DA2222"]}}}},
{"mark":{"type":"rule","strokeWidth":2.5,"color":"#000"},"encoding":{"y":{"datum":0,"type":"quantitative"}}},
{"mark":{"type":"line","strokeWidth":3.5,"color":"#000","interpolate":"monotone"},"encoding":{"x":{"field":"x","type":"quantitative","title":"Stride Cycle [%]","axis":{"values":[0,10,20,30,40,50,60,70,80,90,100],"labelOverlap":false,"tickSize":-4,"labelPadding":13,"titlePadding":12}},"y":{"field":"m","type":"quantitative","title":"Thickness Change [mm]"}}}]},
{"width":384,"height":237,"title":"Run 3.0 m s⁻¹","transform":[{"filter":"datum.p=='r30'"}],"layer":[
{"transform":[{"fold":["1","2","3","4","5","6","7","8","9","10","11","12","13","14","15","16","17","18","19","20"],"as":["k","y"]}],"mark":{"type":"line","strokeWidth":1.3,"interpolate":"monotone"},"encoding":{"x":{"field":"x","type":"quantitative","title":"Stride Cycle [%]","scale":{"domain":[-2.2,102.3],"nice":false,"zero":false},"axis":{"values":[0,10,20,30,40,50,60,70,80,90,100],"labelOverlap":false,"tickSize":-4,"labelPadding":13,"titlePadding":12}},"y":{"field":"y","type":"quantitative","title":"Thickness Change [mm]","scale":{"domain":[-3,2.5],"nice":false,"zero":false},"axis":{"values":[-3,-2,-1,0,1,2],"format":".1f","tickSize":4,"labelPadding":2,"titlePadding":8}},"color":{"field":"k","type":"ordinal","legend":null,"scale":{"domain":["1","2","3","4","5","6","7","8","9","10","11","12","13","14","15","16","17","18","19","20"],"range":["#7A1A87","#4B20AF","#3C37C6","#3F55CF","#4070CD","#4887C9","#5199B6","#58A69F","#6AAE8D","#7BB276","#8DBC69","#A0BE58","#B3BD4B","#C6B746","#D6AB41","#DFA13E","#E68C37","#E77332","#E2542D","#DA2222"]}}}},
{"mark":{"type":"rule","strokeWidth":2.5,"color":"#000"},"encoding":{"y":{"datum":0,"type":"quantitative"}}},
{"mark":{"type":"line","strokeWidth":3.5,"color":"#000","interpolate":"monotone"},"encoding":{"x":{"field":"x","type":"quantitative","title":"Stride Cycle [%]","axis":{"values":[0,10,20,30,40,50,60,70,80,90,100],"labelOverlap":false,"tickSize":-4,"labelPadding":13,"titlePadding":12}},"y":{"field":"m","type":"quantitative","title":"Thickness Change [mm]"}}}]}]},
{"spacing":22,"hconcat":[
{"width":384,"height":237,"title":"Walk 2.0 m s⁻¹","transform":[{"filter":"datum.p=='w20'"}],"layer":[
{"transform":[{"fold":["1","2","3","4","5","6","7","8","9","10","11","12","13","14","15","16","17","18","19","20"],"as":["k","y"]}],"mark":{"type":"line","strokeWidth":1.3,"interpolate":"monotone"},"encoding":{"x":{"field":"x","type":"quantitative","title":"Stride Cycle [%]","scale":{"domain":[-2.2,102.3],"nice":false,"zero":false},"axis":{"values":[0,10,20,30,40,50,60,70,80,90,100],"labelOverlap":false,"tickSize":-4,"labelPadding":13,"titlePadding":12}},"y":{"field":"y","type":"quantitative","title":"Thickness Change [mm]","scale":{"domain":[-3,2.5],"nice":false,"zero":false},"axis":{"values":[-3,-2,-1,0,1,2],"format":".1f","tickSize":4,"labelPadding":2,"titlePadding":8}},"color":{"field":"k","type":"ordinal","legend":null,"scale":{"domain":["1","2","3","4","5","6","7","8","9","10","11","12","13","14","15","16","17","18","19","20"],"range":["#7A1A87","#4B20AF","#3C37C6","#3F55CF","#4070CD","#4887C9","#5199B6","#58A69F","#6AAE8D","#7BB276","#8DBC69","#A0BE58","#B3BD4B","#C6B746","#D6AB41","#DFA13E","#E68C37","#E77332","#E2542D","#DA2222"]}}}},
{"mark":{"type":"rule","strokeWidth":2.5,"color":"#000"},"encoding":{"y":{"datum":0,"type":"quantitative"}}},
{"mark":{"type":"line","strokeWidth":3.5,"color":"#000","interpolate":"monotone"},"encoding":{"x":{"field":"x","type":"quantitative","title":"Stride Cycle [%]","axis":{"values":[0,10,20,30,40,50,60,70,80,90,100],"labelOverlap":false,"tickSize":-4,"labelPadding":13,"titlePadding":12}},"y":{"field":"m","type":"quantitative","title":"Thickness Change [mm]"}}}]},
{"width":384,"height":237,"title":"Run 4.0 m s⁻¹","transform":[{"filter":"datum.p=='r40'"}],"layer":[
{"transform":[{"fold":["1","2","3","4","5","6","7","8","9","10","11","12","13","14","15","16","17","18","19","20"],"as":["k","y"]}],"mark":{"type":"line","strokeWidth":1.3,"interpolate":"monotone"},"encoding":{"x":{"field":"x","type":"quantitative","title":"Stride Cycle [%]","scale":{"domain":[-2.2,102.3],"nice":false,"zero":false},"axis":{"values":[0,10,20,30,40,50,60,70,80,90,100],"labelOverlap":false,"tickSize":-4,"labelPadding":13,"titlePadding":12}},"y":{"field":"y","type":"quantitative","title":"Thickness Change [mm]","scale":{"domain":[-3,2.5],"nice":false,"zero":false},"axis":{"values":[-3,-2,-1,0,1,2],"format":".1f","tickSize":4,"labelPadding":2,"titlePadding":8}},"color":{"field":"k","type":"ordinal","legend":null,"scale":{"domain":["1","2","3","4","5","6","7","8","9","10","11","12","13","14","15","16","17","18","19","20"],"range":["#7A1A87","#4B20AF","#3C37C6","#3F55CF","#4070CD","#4887C9","#5199B6","#58A69F","#6AAE8D","#7BB276","#8DBC69","#A0BE58","#B3BD4B","#C6B746","#D6AB41","#DFA13E","#E68C37","#E77332","#E2542D","#DA2222"]}}}},
{"mark":{"type":"rule","strokeWidth":2.5,"color":"#000"},"encoding":{"y":{"datum":0,"type":"quantitative"}}},
{"mark":{"type":"line","strokeWidth":3.5,"color":"#000","interpolate":"monotone"},"encoding":{"x":{"field":"x","type":"quantitative","title":"Stride Cycle [%]","axis":{"values":[0,10,20,30,40,50,60,70,80,90,100],"labelOverlap":false,"tickSize":-4,"labelPadding":13,"titlePadding":12}},"y":{"field":"m","type":"quantitative","title":"Thickness Change [mm]"}}}]}]},
{"spacing":14,"hconcat":[
{"width":384,"height":158,"data":{"values":[{"k":"1"},{"k":"2"},{"k":"3"},{"k":"4"},{"k":"5"},{"k":"6"},{"k":"7"},{"k":"8"},{"k":"9"},{"k":"10"},{"k":"11"},{"k":"12"},{"k":"13"},{"k":"14"},{"k":"15"},{"k":"16"},{"k":"17"},{"k":"18"},{"k":"19"},{"k":"20"}]},
"title":{"text":"Muscle Region Colour Scale","fontSize":28,"offset":-86,"anchor":"start","frame":"group","align":"center","dx":157.5},
"mark":{"type":"rect"},
"encoding":{"x":{"field":"k","type":"ordinal","sort":null,"scale":{"domain":["1","2","3","4","5","6","7","8","9","10","11","12","13","14","15","16","17","18","19","20"],"range":[-42.6,357.6],"paddingInner":0,"paddingOuter":0},"axis":{"values":["1","10","20"],"domain":false,"ticks":false,"labelFontSize":21,"labelPadding":4,"labelAngle":0,"title":null}},
"y":{"datum":0,"type":"quantitative","scale":{"domain":[0,2.43],"nice":false,"zero":false},"axis":null},"y2":{"datum":1},
"color":{"field":"k","type":"ordinal","legend":null,"scale":{"domain":["1","2","3","4","5","6","7","8","9","10","11","12","13","14","15","16","17","18","19","20"],"range":["#7A1A87","#4B20AF","#3C37C6","#3F55CF","#4070CD","#4887C9","#5199B6","#58A69F","#6AAE8D","#7BB276","#8DBC69","#A0BE58","#B3BD4B","#C6B746","#D6AB41","#DFA13E","#E68C37","#E77332","#E2542D","#DA2222"]}}}},
{"width":384,"height":237,"title":"Run 5.0 m s⁻¹","transform":[{"filter":"datum.p=='r50'"}],"layer":[
{"transform":[{"fold":["1","2","3","4","5","6","7","8","9","10","11","12","13","14","15","16","17","18","19","20"],"as":["k","y"]}],"mark":{"type":"line","strokeWidth":1.3,"interpolate":"monotone"},"encoding":{"x":{"field":"x","type":"quantitative","title":"Stride Cycle [%]","scale":{"domain":[-2.2,102.3],"nice":false,"zero":false},"axis":{"values":[0,10,20,30,40,50,60,70,80,90,100],"labelOverlap":false,"tickSize":-4,"labelPadding":13,"titlePadding":12}},"y":{"field":"y","type":"quantitative","title":"Thickness Change [mm]","scale":{"domain":[-3,2.5],"nice":false,"zero":false},"axis":{"values":[-3,-2,-1,0,1,2],"format":".1f","tickSize":4,"labelPadding":2,"titlePadding":8}},"color":{"field":"k","type":"ordinal","legend":null,"scale":{"domain":["1","2","3","4","5","6","7","8","9","10","11","12","13","14","15","16","17","18","19","20"],"range":["#7A1A87","#4B20AF","#3C37C6","#3F55CF","#4070CD","#4887C9","#5199B6","#58A69F","#6AAE8D","#7BB276","#8DBC69","#A0BE58","#B3BD4B","#C6B746","#D6AB41","#DFA13E","#E68C37","#E77332","#E2542D","#DA2222"]}}}},
{"mark":{"type":"rule","strokeWidth":2.5,"color":"#000"},"encoding":{"y":{"datum":0,"type":"quantitative"}}},
{"mark":{"type":"line","strokeWidth":3.5,"color":"#000","interpolate":"monotone"},"encoding":{"x":{"field":"x","type":"quantitative","title":"Stride Cycle [%]","axis":{"values":[0,10,20,30,40,50,60,70,80,90,100],"labelOverlap":false,"tickSize":-4,"labelPadding":13,"titlePadding":12}},"y":{"field":"m","type":"quantitative","title":"Thickness Change [mm]"}}}]}]}
]
}
